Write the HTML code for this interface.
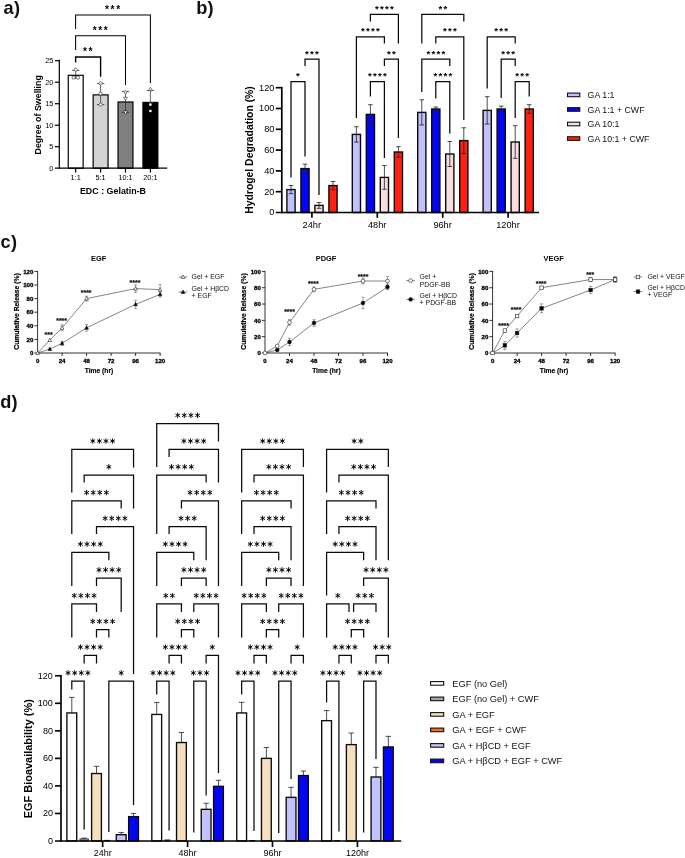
<!DOCTYPE html>
<html><head><meta charset="utf-8"><title>Figure</title>
<style>html,body{margin:0;padding:0;background:#fff;}svg{display:block;will-change:transform;font-family:'Liberation Sans', sans-serif;}</style>
</head><body>
<svg width="685" height="858" viewBox="0 0 685 858" font-family='"Liberation Sans", sans-serif'>
<rect x="0" y="0" width="685" height="858" fill="#fff"/>
<text x="3.6" y="13.6" font-size="18.2" font-weight="bold" letter-spacing="0.3" fill="#111">a)</text>
<text x="196.2" y="13.6" font-size="18.2" font-weight="bold" letter-spacing="0.3" fill="#111">b)</text>
<text x="0.6" y="247.6" font-size="18.2" font-weight="bold" letter-spacing="0.3" fill="#111">c)</text>
<text x="0.2" y="407.6" font-size="18.2" font-weight="bold" letter-spacing="0.3" fill="#111">d)</text>
<g id="panelA">
<rect x="68.25" y="75.32" width="14.9" height="92.88" fill="#ffffff" stroke="#000" stroke-width="1.2"/>
<rect x="93.15" y="94.88" width="14.9" height="73.31" fill="#d3d3d3" stroke="#000" stroke-width="1.2"/>
<rect x="118.05" y="101.98" width="14.9" height="66.22" fill="#808080" stroke="#000" stroke-width="1.2"/>
<rect x="142.95" y="102.41" width="14.9" height="65.79" fill="#000000" stroke="#000" stroke-width="1.2"/>
<line x1="75.7" y1="70.4" x2="75.7" y2="78.2" stroke="#222" stroke-width="0.7" stroke-linecap="butt"/>
<line x1="71.95" y1="70.4" x2="79.45" y2="70.4" stroke="#222" stroke-width="0.7" stroke-linecap="butt"/>
<line x1="71.95" y1="78.2" x2="79.45" y2="78.2" stroke="#222" stroke-width="0.7" stroke-linecap="butt"/>
<line x1="100.6" y1="83.6" x2="100.6" y2="104.6" stroke="#222" stroke-width="0.7" stroke-linecap="butt"/>
<line x1="96.85" y1="83.6" x2="104.35" y2="83.6" stroke="#222" stroke-width="0.7" stroke-linecap="butt"/>
<line x1="96.85" y1="104.6" x2="104.35" y2="104.6" stroke="#222" stroke-width="0.7" stroke-linecap="butt"/>
<line x1="125.5" y1="91.6" x2="125.5" y2="112.4" stroke="#222" stroke-width="0.7" stroke-linecap="butt"/>
<line x1="121.75" y1="91.6" x2="129.25" y2="91.6" stroke="#222" stroke-width="0.7" stroke-linecap="butt"/>
<line x1="121.75" y1="112.4" x2="129.25" y2="112.4" stroke="#222" stroke-width="0.7" stroke-linecap="butt"/>
<line x1="150.4" y1="90.4" x2="150.4" y2="102.5" stroke="#222" stroke-width="0.7" stroke-linecap="butt"/>
<line x1="146.65" y1="90.4" x2="154.15" y2="90.4" stroke="#222" stroke-width="0.7" stroke-linecap="butt"/>
<line x1="146.65" y1="102.5" x2="154.15" y2="102.5" stroke="#222" stroke-width="0.7" stroke-linecap="butt"/>
<circle cx="75.7" cy="69.8" r="1.6" fill="#fff" stroke="#222" stroke-width="0.6"/>
<circle cx="73.6" cy="77.6" r="1.6" fill="#fff" stroke="#222" stroke-width="0.6"/>
<circle cx="77.9" cy="77.6" r="1.6" fill="#fff" stroke="#222" stroke-width="0.6"/>
<circle cx="100.6" cy="83.4" r="1.6" fill="#fff" stroke="#222" stroke-width="0.6"/>
<circle cx="100.6" cy="93.6" r="1.6" fill="#fff" stroke="#222" stroke-width="0.6"/>
<circle cx="100.6" cy="104.6" r="1.6" fill="#fff" stroke="#222" stroke-width="0.6"/>
<path d="M125.5 94.5L127.4 91.08L123.6 91.08Z" fill="#fff" stroke="#222" stroke-width="0.6"/>
<path d="M125.5 100.7L127.4 97.28L123.6 97.28Z" fill="#fff" stroke="#222" stroke-width="0.6"/>
<path d="M125.5 114.3L127.4 110.88L123.6 110.88Z" fill="#fff" stroke="#222" stroke-width="0.6"/>
<path d="M150.4 87.3L152.3 90.72L148.5 90.72Z" fill="#fff" stroke="#222" stroke-width="0.6"/>
<circle cx="150.4" cy="104.6" r="1.3" fill="#fff" stroke="#fff" stroke-width="0.1"/>
<circle cx="150.4" cy="111" r="1.3" fill="#fff" stroke="#fff" stroke-width="0.1"/>
<line x1="59.3" y1="59.8" x2="59.3" y2="168.8" stroke="#000" stroke-width="1.2" stroke-linecap="butt"/>
<line x1="54.9" y1="168.2" x2="167.2" y2="168.2" stroke="#000" stroke-width="1.2" stroke-linecap="butt"/>
<line x1="54.9" y1="146.7" x2="59.3" y2="146.7" stroke="#000" stroke-width="1.2" stroke-linecap="butt"/>
<line x1="54.9" y1="125.2" x2="59.3" y2="125.2" stroke="#000" stroke-width="1.2" stroke-linecap="butt"/>
<line x1="54.9" y1="103.7" x2="59.3" y2="103.7" stroke="#000" stroke-width="1.2" stroke-linecap="butt"/>
<line x1="54.9" y1="82.2" x2="59.3" y2="82.2" stroke="#000" stroke-width="1.2" stroke-linecap="butt"/>
<line x1="54.9" y1="60.7" x2="59.3" y2="60.7" stroke="#000" stroke-width="1.2" stroke-linecap="butt"/>
<text x="53.4" y="170.81" font-size="7.3" text-anchor="end" fill="#000">0</text>
<text x="53.4" y="149.31" font-size="7.3" text-anchor="end" fill="#000">5</text>
<text x="53.4" y="127.81" font-size="7.3" text-anchor="end" fill="#000">10</text>
<text x="53.4" y="106.31" font-size="7.3" text-anchor="end" fill="#000">15</text>
<text x="53.4" y="84.81" font-size="7.3" text-anchor="end" fill="#000">20</text>
<text x="53.4" y="63.31" font-size="7.3" text-anchor="end" fill="#000">25</text>
<line x1="75.7" y1="168.2" x2="75.7" y2="172.6" stroke="#000" stroke-width="1.2" stroke-linecap="butt"/>
<text x="75.7" y="180.31" font-size="7.3" text-anchor="middle" fill="#000">1:1</text>
<line x1="100.6" y1="168.2" x2="100.6" y2="172.6" stroke="#000" stroke-width="1.2" stroke-linecap="butt"/>
<text x="100.6" y="180.31" font-size="7.3" text-anchor="middle" fill="#000">5:1</text>
<line x1="125.5" y1="168.2" x2="125.5" y2="172.6" stroke="#000" stroke-width="1.2" stroke-linecap="butt"/>
<text x="125.5" y="180.31" font-size="7.3" text-anchor="middle" fill="#000">10:1</text>
<line x1="150.4" y1="168.2" x2="150.4" y2="172.6" stroke="#000" stroke-width="1.2" stroke-linecap="butt"/>
<text x="150.4" y="180.31" font-size="7.3" text-anchor="middle" fill="#000">20:1</text>
<text x="113" y="194.49" font-size="8.9" text-anchor="middle" font-weight="bold" fill="#000">EDC : Gelatin-B</text>
<text transform="translate(37.6 114.8) rotate(-90)" x="0" y="3.19" font-size="8.9" text-anchor="middle" font-weight="bold" fill="#000">Degree of Swelling</text>
<path d="M75.6 29V14.9H150.4V82.9" stroke="#000" stroke-width="1.05" fill="none" stroke-linejoin="miter"/>
<text x="113.4" y="12.79" font-size="10.2" text-anchor="middle" font-weight="bold" letter-spacing="1.6" fill="#000">***</text>
<path d="M75.6 50V35.8H125.5V84.9" stroke="#000" stroke-width="1.05" fill="none" stroke-linejoin="miter"/>
<text x="101.1" y="33.59" font-size="10.2" text-anchor="middle" font-weight="bold" letter-spacing="1.6" fill="#000">***</text>
<path d="M75.6 62.4V57H100.6V76.8" stroke="#000" stroke-width="1.4" fill="none" stroke-linejoin="miter"/>
<text x="88.5" y="54.59" font-size="10.2" text-anchor="middle" font-weight="bold" letter-spacing="1.6" fill="#000">**</text>
</g>
<g id="panelB">
<rect x="286.9" y="189.6" width="8.2" height="22.9" fill="#c1c1fb" stroke="#0a0a0a" stroke-width="1.4"/>
<line x1="291" y1="185.5" x2="291" y2="193.7" stroke="#222" stroke-width="0.8" stroke-linecap="butt"/>
<line x1="288.7" y1="185.5" x2="293.3" y2="185.5" stroke="#222" stroke-width="0.8" stroke-linecap="butt"/>
<line x1="288.7" y1="193.7" x2="293.3" y2="193.7" stroke="#222" stroke-width="0.8" stroke-linecap="butt"/>
<rect x="300.9" y="168.6" width="8.2" height="43.9" fill="#0505f5" stroke="#0a0a0a" stroke-width="1.4"/>
<line x1="305" y1="164.2" x2="305" y2="173" stroke="#222" stroke-width="0.8" stroke-linecap="butt"/>
<line x1="302.7" y1="164.2" x2="307.3" y2="164.2" stroke="#222" stroke-width="0.8" stroke-linecap="butt"/>
<line x1="302.7" y1="173" x2="307.3" y2="173" stroke="#222" stroke-width="0.8" stroke-linecap="butt"/>
<rect x="314.9" y="205.4" width="8.2" height="7.1" fill="#f8dede" stroke="#0a0a0a" stroke-width="1.4"/>
<line x1="319" y1="202.5" x2="319" y2="208.3" stroke="#222" stroke-width="0.8" stroke-linecap="butt"/>
<line x1="316.7" y1="202.5" x2="321.3" y2="202.5" stroke="#222" stroke-width="0.8" stroke-linecap="butt"/>
<line x1="316.7" y1="208.3" x2="321.3" y2="208.3" stroke="#222" stroke-width="0.8" stroke-linecap="butt"/>
<rect x="328.9" y="185.6" width="8.2" height="26.9" fill="#ff200f" stroke="#0a0a0a" stroke-width="1.4"/>
<line x1="333" y1="181.5" x2="333" y2="189.7" stroke="#222" stroke-width="0.8" stroke-linecap="butt"/>
<line x1="330.7" y1="181.5" x2="335.3" y2="181.5" stroke="#222" stroke-width="0.8" stroke-linecap="butt"/>
<line x1="330.7" y1="189.7" x2="335.3" y2="189.7" stroke="#222" stroke-width="0.8" stroke-linecap="butt"/>
<rect x="352.3" y="134.4" width="8.2" height="78.1" fill="#c1c1fb" stroke="#0a0a0a" stroke-width="1.4"/>
<line x1="356.4" y1="126.7" x2="356.4" y2="142.1" stroke="#222" stroke-width="0.8" stroke-linecap="butt"/>
<line x1="354.1" y1="126.7" x2="358.7" y2="126.7" stroke="#222" stroke-width="0.8" stroke-linecap="butt"/>
<line x1="354.1" y1="142.1" x2="358.7" y2="142.1" stroke="#222" stroke-width="0.8" stroke-linecap="butt"/>
<rect x="366.3" y="114.4" width="8.2" height="98.1" fill="#0505f5" stroke="#0a0a0a" stroke-width="1.4"/>
<line x1="370.4" y1="104.7" x2="370.4" y2="124.1" stroke="#222" stroke-width="0.8" stroke-linecap="butt"/>
<line x1="368.1" y1="104.7" x2="372.7" y2="104.7" stroke="#222" stroke-width="0.8" stroke-linecap="butt"/>
<line x1="368.1" y1="124.1" x2="372.7" y2="124.1" stroke="#222" stroke-width="0.8" stroke-linecap="butt"/>
<rect x="380.3" y="177.4" width="8.2" height="35.1" fill="#f8dede" stroke="#0a0a0a" stroke-width="1.4"/>
<line x1="384.4" y1="165.5" x2="384.4" y2="189.3" stroke="#222" stroke-width="0.8" stroke-linecap="butt"/>
<line x1="382.1" y1="165.5" x2="386.7" y2="165.5" stroke="#222" stroke-width="0.8" stroke-linecap="butt"/>
<line x1="382.1" y1="189.3" x2="386.7" y2="189.3" stroke="#222" stroke-width="0.8" stroke-linecap="butt"/>
<rect x="394.3" y="152" width="8.2" height="60.5" fill="#ff200f" stroke="#0a0a0a" stroke-width="1.4"/>
<line x1="398.4" y1="146.7" x2="398.4" y2="157.3" stroke="#222" stroke-width="0.8" stroke-linecap="butt"/>
<line x1="396.1" y1="146.7" x2="400.7" y2="146.7" stroke="#222" stroke-width="0.8" stroke-linecap="butt"/>
<line x1="396.1" y1="157.3" x2="400.7" y2="157.3" stroke="#222" stroke-width="0.8" stroke-linecap="butt"/>
<rect x="417.7" y="112.4" width="8.2" height="100.1" fill="#c1c1fb" stroke="#0a0a0a" stroke-width="1.4"/>
<line x1="421.8" y1="99.8" x2="421.8" y2="125" stroke="#222" stroke-width="0.8" stroke-linecap="butt"/>
<line x1="419.5" y1="99.8" x2="424.1" y2="99.8" stroke="#222" stroke-width="0.8" stroke-linecap="butt"/>
<line x1="419.5" y1="125" x2="424.1" y2="125" stroke="#222" stroke-width="0.8" stroke-linecap="butt"/>
<rect x="431.7" y="109" width="8.2" height="103.5" fill="#0505f5" stroke="#0a0a0a" stroke-width="1.4"/>
<line x1="435.8" y1="107" x2="435.8" y2="111" stroke="#222" stroke-width="0.8" stroke-linecap="butt"/>
<line x1="433.5" y1="107" x2="438.1" y2="107" stroke="#222" stroke-width="0.8" stroke-linecap="butt"/>
<line x1="433.5" y1="111" x2="438.1" y2="111" stroke="#222" stroke-width="0.8" stroke-linecap="butt"/>
<rect x="445.7" y="154" width="8.2" height="58.5" fill="#f8dede" stroke="#0a0a0a" stroke-width="1.4"/>
<line x1="449.8" y1="141.5" x2="449.8" y2="166.5" stroke="#222" stroke-width="0.8" stroke-linecap="butt"/>
<line x1="447.5" y1="141.5" x2="452.1" y2="141.5" stroke="#222" stroke-width="0.8" stroke-linecap="butt"/>
<line x1="447.5" y1="166.5" x2="452.1" y2="166.5" stroke="#222" stroke-width="0.8" stroke-linecap="butt"/>
<rect x="459.7" y="140.6" width="8.2" height="71.9" fill="#ff200f" stroke="#0a0a0a" stroke-width="1.4"/>
<line x1="463.8" y1="127.8" x2="463.8" y2="153.4" stroke="#222" stroke-width="0.8" stroke-linecap="butt"/>
<line x1="461.5" y1="127.8" x2="466.1" y2="127.8" stroke="#222" stroke-width="0.8" stroke-linecap="butt"/>
<line x1="461.5" y1="153.4" x2="466.1" y2="153.4" stroke="#222" stroke-width="0.8" stroke-linecap="butt"/>
<rect x="483.1" y="110.4" width="8.2" height="102.1" fill="#c1c1fb" stroke="#0a0a0a" stroke-width="1.4"/>
<line x1="487.2" y1="96.7" x2="487.2" y2="124.1" stroke="#222" stroke-width="0.8" stroke-linecap="butt"/>
<line x1="484.9" y1="96.7" x2="489.5" y2="96.7" stroke="#222" stroke-width="0.8" stroke-linecap="butt"/>
<line x1="484.9" y1="124.1" x2="489.5" y2="124.1" stroke="#222" stroke-width="0.8" stroke-linecap="butt"/>
<rect x="497.1" y="109" width="8.2" height="103.5" fill="#0505f5" stroke="#0a0a0a" stroke-width="1.4"/>
<line x1="501.2" y1="106.1" x2="501.2" y2="111.9" stroke="#222" stroke-width="0.8" stroke-linecap="butt"/>
<line x1="498.9" y1="106.1" x2="503.5" y2="106.1" stroke="#222" stroke-width="0.8" stroke-linecap="butt"/>
<line x1="498.9" y1="111.9" x2="503.5" y2="111.9" stroke="#222" stroke-width="0.8" stroke-linecap="butt"/>
<rect x="511.1" y="142" width="8.2" height="70.5" fill="#f8dede" stroke="#0a0a0a" stroke-width="1.4"/>
<line x1="515.2" y1="125.7" x2="515.2" y2="158.3" stroke="#222" stroke-width="0.8" stroke-linecap="butt"/>
<line x1="512.9" y1="125.7" x2="517.5" y2="125.7" stroke="#222" stroke-width="0.8" stroke-linecap="butt"/>
<line x1="512.9" y1="158.3" x2="517.5" y2="158.3" stroke="#222" stroke-width="0.8" stroke-linecap="butt"/>
<rect x="525.1" y="109" width="8.2" height="103.5" fill="#ff200f" stroke="#0a0a0a" stroke-width="1.4"/>
<line x1="529.2" y1="104.7" x2="529.2" y2="113.3" stroke="#222" stroke-width="0.8" stroke-linecap="butt"/>
<line x1="526.9" y1="104.7" x2="531.5" y2="104.7" stroke="#222" stroke-width="0.8" stroke-linecap="butt"/>
<line x1="526.9" y1="113.3" x2="531.5" y2="113.3" stroke="#222" stroke-width="0.8" stroke-linecap="butt"/>
<line x1="281.8" y1="86.9" x2="281.8" y2="213.35" stroke="#000" stroke-width="1.7" stroke-linecap="butt"/>
<line x1="275.8" y1="212.5" x2="539" y2="212.5" stroke="#000" stroke-width="1.7" stroke-linecap="butt"/>
<line x1="275.8" y1="191.7" x2="281.8" y2="191.7" stroke="#000" stroke-width="1.7" stroke-linecap="butt"/>
<line x1="275.8" y1="170.9" x2="281.8" y2="170.9" stroke="#000" stroke-width="1.7" stroke-linecap="butt"/>
<line x1="275.8" y1="150.1" x2="281.8" y2="150.1" stroke="#000" stroke-width="1.7" stroke-linecap="butt"/>
<line x1="275.8" y1="129.3" x2="281.8" y2="129.3" stroke="#000" stroke-width="1.7" stroke-linecap="butt"/>
<line x1="275.8" y1="108.5" x2="281.8" y2="108.5" stroke="#000" stroke-width="1.7" stroke-linecap="butt"/>
<line x1="275.8" y1="87.7" x2="281.8" y2="87.7" stroke="#000" stroke-width="1.7" stroke-linecap="butt"/>
<text x="274.4" y="215.49" font-size="9.2" text-anchor="end" fill="#000">0</text>
<text x="274.4" y="194.69" font-size="9.2" text-anchor="end" fill="#000">20</text>
<text x="274.4" y="173.89" font-size="9.2" text-anchor="end" fill="#000">40</text>
<text x="274.4" y="153.09" font-size="9.2" text-anchor="end" fill="#000">60</text>
<text x="274.4" y="132.29" font-size="9.2" text-anchor="end" fill="#000">80</text>
<text x="274.4" y="111.49" font-size="9.2" text-anchor="end" fill="#000">100</text>
<text x="274.4" y="90.69" font-size="9.2" text-anchor="end" fill="#000">120</text>
<line x1="311.9" y1="212.5" x2="311.9" y2="217.8" stroke="#000" stroke-width="1.7" stroke-linecap="butt"/>
<text x="311.8" y="227.59" font-size="9.2" text-anchor="middle" fill="#000">24hr</text>
<line x1="377.3" y1="212.5" x2="377.3" y2="217.8" stroke="#000" stroke-width="1.7" stroke-linecap="butt"/>
<text x="377.2" y="227.59" font-size="9.2" text-anchor="middle" fill="#000">48hr</text>
<line x1="442.7" y1="212.5" x2="442.7" y2="217.8" stroke="#000" stroke-width="1.7" stroke-linecap="butt"/>
<text x="442.6" y="227.59" font-size="9.2" text-anchor="middle" fill="#000">96hr</text>
<line x1="508.1" y1="212.5" x2="508.1" y2="217.8" stroke="#000" stroke-width="1.7" stroke-linecap="butt"/>
<text x="508" y="227.59" font-size="9.2" text-anchor="middle" fill="#000">120hr</text>
<text transform="translate(249.7 150) rotate(-90)" x="0" y="3.72" font-size="10.4" text-anchor="middle" font-weight="bold" fill="#000">Hydrogel Degradation (%)</text>
<path d="M291 177.4V81.5H305V156.6" stroke="#0a0a0a" stroke-width="1.25" fill="none" stroke-linejoin="miter"/>
<text x="298.62" y="79.06" font-size="9.7" text-anchor="middle" font-weight="bold" letter-spacing="1.25" fill="#000">*</text>
<path d="M305 66V59.2H319V195" stroke="#0a0a0a" stroke-width="1.25" fill="none" stroke-linejoin="miter"/>
<text x="312.62" y="56.76" font-size="9.7" text-anchor="middle" font-weight="bold" letter-spacing="1.25" fill="#000">***</text>
<path d="M370.4 21.4V14.4H398.4V43.6" stroke="#0a0a0a" stroke-width="1.25" fill="none" stroke-linejoin="miter"/>
<text x="385.02" y="11.96" font-size="9.7" text-anchor="middle" font-weight="bold" letter-spacing="1.25" fill="#000">****</text>
<path d="M356.4 118V36.8H384.4V43.6" stroke="#0a0a0a" stroke-width="1.25" fill="none" stroke-linejoin="miter"/>
<text x="371.02" y="34.36" font-size="9.7" text-anchor="middle" font-weight="bold" letter-spacing="1.25" fill="#000">****</text>
<path d="M384.4 66V59.2H398.4V138" stroke="#0a0a0a" stroke-width="1.25" fill="none" stroke-linejoin="miter"/>
<text x="392.02" y="56.76" font-size="9.7" text-anchor="middle" font-weight="bold" letter-spacing="1.25" fill="#000">**</text>
<path d="M370.4 96.6V81.5H384.4V158" stroke="#0a0a0a" stroke-width="1.25" fill="none" stroke-linejoin="miter"/>
<text x="378.02" y="79.06" font-size="9.7" text-anchor="middle" font-weight="bold" letter-spacing="1.25" fill="#000">****</text>
<path d="M421.8 43.6V14.4H463.8V21.4" stroke="#0a0a0a" stroke-width="1.25" fill="none" stroke-linejoin="miter"/>
<text x="443.43" y="11.96" font-size="9.7" text-anchor="middle" font-weight="bold" letter-spacing="1.25" fill="#000">**</text>
<path d="M435.8 43.6V36.8H463.8V120" stroke="#0a0a0a" stroke-width="1.25" fill="none" stroke-linejoin="miter"/>
<text x="450.43" y="34.36" font-size="9.7" text-anchor="middle" font-weight="bold" letter-spacing="1.25" fill="#000">***</text>
<path d="M421.8 92V59.2H449.8V66" stroke="#0a0a0a" stroke-width="1.25" fill="none" stroke-linejoin="miter"/>
<text x="436.43" y="56.76" font-size="9.7" text-anchor="middle" font-weight="bold" letter-spacing="1.25" fill="#000">****</text>
<path d="M435.8 98.6V81.5H449.8V133.6" stroke="#0a0a0a" stroke-width="1.25" fill="none" stroke-linejoin="miter"/>
<text x="443.43" y="79.06" font-size="9.7" text-anchor="middle" font-weight="bold" letter-spacing="1.25" fill="#000">****</text>
<path d="M487.2 88.6V36.8H515.2V43.6" stroke="#0a0a0a" stroke-width="1.25" fill="none" stroke-linejoin="miter"/>
<text x="501.83" y="34.36" font-size="9.7" text-anchor="middle" font-weight="bold" letter-spacing="1.25" fill="#000">***</text>
<path d="M501.2 98V59.2H515.2V66" stroke="#0a0a0a" stroke-width="1.25" fill="none" stroke-linejoin="miter"/>
<text x="508.83" y="56.76" font-size="9.7" text-anchor="middle" font-weight="bold" letter-spacing="1.25" fill="#000">***</text>
<path d="M515.2 118V81.5H529.2V96.6" stroke="#0a0a0a" stroke-width="1.25" fill="none" stroke-linejoin="miter"/>
<text x="522.83" y="79.06" font-size="9.7" text-anchor="middle" font-weight="bold" letter-spacing="1.25" fill="#000">***</text>
<rect x="567.5" y="93.1" width="12.3" height="3.6" fill="#c1c1fb" stroke="#111" stroke-width="1.1"/>
<text x="587.6" y="98.15" font-size="8.8" text-anchor="start" fill="#111">GA 1:1</text>
<rect x="567.5" y="107.65" width="12.3" height="3.6" fill="#0505f5" stroke="#111" stroke-width="1.1"/>
<text x="587.6" y="112.7" font-size="8.8" text-anchor="start" fill="#111">GA 1:1 + CWF</text>
<rect x="567.5" y="122.2" width="12.3" height="3.6" fill="#f8dede" stroke="#111" stroke-width="1.1"/>
<text x="587.6" y="127.25" font-size="8.8" text-anchor="start" fill="#111">GA 10:1</text>
<rect x="567.5" y="136.75" width="12.3" height="3.6" fill="#ff200f" stroke="#111" stroke-width="1.1"/>
<text x="587.6" y="141.8" font-size="8.8" text-anchor="start" fill="#111">GA 10:1 + CWF</text>
</g>
<g id="panelC">
<text x="98.6" y="261.05" font-size="7.4" text-anchor="middle" font-weight="bold" fill="#000">EGF</text>
<text x="99" y="372.9" font-size="6.7" text-anchor="middle" font-weight="bold" stroke="#000" stroke-width="0.15" fill="#000">Time (hr)</text>
<text transform="translate(16.4 311.5) rotate(-90)" x="0" y="2.42" font-size="6.77" text-anchor="middle" font-weight="bold" stroke="#000" stroke-width="0.2" fill="#000">Cumulative Release (%)</text>
<path d="M37.6 353L49.85 340.08L62.1 327.84L86.6 298.6L135.6 288.6L160.1 289.62" stroke="#505050" stroke-width="0.7" fill="none" stroke-linejoin="miter"/>
<path d="M37.6 353L49.85 348.99L62.1 343.34L86.6 327.84L135.6 304.38L160.1 294.38" stroke="#505050" stroke-width="0.7" fill="none" stroke-linejoin="miter"/>
<line x1="62.1" y1="324.78" x2="62.1" y2="330.9" stroke="#666" stroke-width="0.6" stroke-linecap="butt"/>
<line x1="60.5" y1="324.78" x2="63.7" y2="324.78" stroke="#666" stroke-width="0.6" stroke-linecap="butt"/>
<line x1="60.5" y1="330.9" x2="63.7" y2="330.9" stroke="#666" stroke-width="0.6" stroke-linecap="butt"/>
<line x1="86.6" y1="296.22" x2="86.6" y2="300.98" stroke="#666" stroke-width="0.6" stroke-linecap="butt"/>
<line x1="85" y1="296.22" x2="88.2" y2="296.22" stroke="#666" stroke-width="0.6" stroke-linecap="butt"/>
<line x1="85" y1="300.98" x2="88.2" y2="300.98" stroke="#666" stroke-width="0.6" stroke-linecap="butt"/>
<line x1="135.6" y1="284.86" x2="135.6" y2="292.34" stroke="#666" stroke-width="0.6" stroke-linecap="butt"/>
<line x1="134" y1="284.86" x2="137.2" y2="284.86" stroke="#666" stroke-width="0.6" stroke-linecap="butt"/>
<line x1="134" y1="292.34" x2="137.2" y2="292.34" stroke="#666" stroke-width="0.6" stroke-linecap="butt"/>
<line x1="160.1" y1="284.52" x2="160.1" y2="294.72" stroke="#666" stroke-width="0.6" stroke-linecap="butt"/>
<line x1="158.5" y1="284.52" x2="161.7" y2="284.52" stroke="#666" stroke-width="0.6" stroke-linecap="butt"/>
<line x1="158.5" y1="294.72" x2="161.7" y2="294.72" stroke="#666" stroke-width="0.6" stroke-linecap="butt"/>
<line x1="62.1" y1="341.3" x2="62.1" y2="345.38" stroke="#666" stroke-width="0.6" stroke-linecap="butt"/>
<line x1="60.5" y1="341.3" x2="63.7" y2="341.3" stroke="#666" stroke-width="0.6" stroke-linecap="butt"/>
<line x1="60.5" y1="345.38" x2="63.7" y2="345.38" stroke="#666" stroke-width="0.6" stroke-linecap="butt"/>
<line x1="86.6" y1="324.44" x2="86.6" y2="331.24" stroke="#666" stroke-width="0.6" stroke-linecap="butt"/>
<line x1="85" y1="324.44" x2="88.2" y2="324.44" stroke="#666" stroke-width="0.6" stroke-linecap="butt"/>
<line x1="85" y1="331.24" x2="88.2" y2="331.24" stroke="#666" stroke-width="0.6" stroke-linecap="butt"/>
<line x1="135.6" y1="300.3" x2="135.6" y2="308.46" stroke="#666" stroke-width="0.6" stroke-linecap="butt"/>
<line x1="134" y1="300.3" x2="137.2" y2="300.3" stroke="#666" stroke-width="0.6" stroke-linecap="butt"/>
<line x1="134" y1="308.46" x2="137.2" y2="308.46" stroke="#666" stroke-width="0.6" stroke-linecap="butt"/>
<line x1="160.1" y1="291.66" x2="160.1" y2="297.1" stroke="#666" stroke-width="0.6" stroke-linecap="butt"/>
<line x1="158.5" y1="291.66" x2="161.7" y2="291.66" stroke="#666" stroke-width="0.6" stroke-linecap="butt"/>
<line x1="158.5" y1="297.1" x2="161.7" y2="297.1" stroke="#666" stroke-width="0.6" stroke-linecap="butt"/>
<line x1="37.6" y1="270.9" x2="37.6" y2="353.4" stroke="#111" stroke-width="0.85" stroke-linecap="butt"/>
<line x1="34.4" y1="353" x2="160.5" y2="353" stroke="#111" stroke-width="0.85" stroke-linecap="butt"/>
<line x1="34.4" y1="339.4" x2="37.6" y2="339.4" stroke="#111" stroke-width="0.85" stroke-linecap="butt"/>
<line x1="34.4" y1="325.8" x2="37.6" y2="325.8" stroke="#111" stroke-width="0.85" stroke-linecap="butt"/>
<line x1="34.4" y1="312.2" x2="37.6" y2="312.2" stroke="#111" stroke-width="0.85" stroke-linecap="butt"/>
<line x1="34.4" y1="298.6" x2="37.6" y2="298.6" stroke="#111" stroke-width="0.85" stroke-linecap="butt"/>
<line x1="34.4" y1="285" x2="37.6" y2="285" stroke="#111" stroke-width="0.85" stroke-linecap="butt"/>
<line x1="34.4" y1="271.4" x2="37.6" y2="271.4" stroke="#111" stroke-width="0.85" stroke-linecap="butt"/>
<text x="33.4" y="355.18" font-size="6.1" text-anchor="end" font-weight="bold" stroke="#000" stroke-width="0.3" fill="#000">0</text>
<text x="33.4" y="341.58" font-size="6.1" text-anchor="end" font-weight="bold" stroke="#000" stroke-width="0.3" fill="#000">20</text>
<text x="33.4" y="327.98" font-size="6.1" text-anchor="end" font-weight="bold" stroke="#000" stroke-width="0.3" fill="#000">40</text>
<text x="33.4" y="314.38" font-size="6.1" text-anchor="end" font-weight="bold" stroke="#000" stroke-width="0.3" fill="#000">60</text>
<text x="33.4" y="300.78" font-size="6.1" text-anchor="end" font-weight="bold" stroke="#000" stroke-width="0.3" fill="#000">80</text>
<text x="33.4" y="287.18" font-size="6.1" text-anchor="end" font-weight="bold" stroke="#000" stroke-width="0.3" fill="#000">100</text>
<text x="33.4" y="273.58" font-size="6.1" text-anchor="end" font-weight="bold" stroke="#000" stroke-width="0.3" fill="#000">120</text>
<text x="37.6" y="363.18" font-size="6.1" text-anchor="middle" font-weight="bold" stroke="#000" stroke-width="0.3" fill="#000">0</text>
<line x1="62.1" y1="353" x2="62.1" y2="356" stroke="#111" stroke-width="0.85" stroke-linecap="butt"/>
<text x="62.1" y="363.18" font-size="6.1" text-anchor="middle" font-weight="bold" stroke="#000" stroke-width="0.3" fill="#000">24</text>
<line x1="86.6" y1="353" x2="86.6" y2="356" stroke="#111" stroke-width="0.85" stroke-linecap="butt"/>
<text x="86.6" y="363.18" font-size="6.1" text-anchor="middle" font-weight="bold" stroke="#000" stroke-width="0.3" fill="#000">48</text>
<line x1="111.1" y1="353" x2="111.1" y2="356" stroke="#111" stroke-width="0.85" stroke-linecap="butt"/>
<text x="111.1" y="363.18" font-size="6.1" text-anchor="middle" font-weight="bold" stroke="#000" stroke-width="0.3" fill="#000">72</text>
<line x1="135.6" y1="353" x2="135.6" y2="356" stroke="#111" stroke-width="0.85" stroke-linecap="butt"/>
<text x="135.6" y="363.18" font-size="6.1" text-anchor="middle" font-weight="bold" stroke="#000" stroke-width="0.3" fill="#000">96</text>
<line x1="160.1" y1="353" x2="160.1" y2="356" stroke="#111" stroke-width="0.85" stroke-linecap="butt"/>
<text x="160.1" y="363.18" font-size="6.1" text-anchor="middle" font-weight="bold" stroke="#000" stroke-width="0.3" fill="#000">120</text>
<path d="M49.85 346.95L51.7 350.47L48 350.47Z" fill="#000" stroke="#222" stroke-width="0.6"/>
<path d="M62.1 341.31L63.95 344.82L60.25 344.82Z" fill="#000" stroke="#222" stroke-width="0.6"/>
<path d="M86.6 325.8L88.45 329.32L84.75 329.32Z" fill="#000" stroke="#222" stroke-width="0.6"/>
<path d="M135.6 302.34L137.45 305.86L133.75 305.86Z" fill="#000" stroke="#222" stroke-width="0.6"/>
<path d="M160.1 292.35L161.95 295.86L158.25 295.86Z" fill="#000" stroke="#222" stroke-width="0.6"/>
<path d="M37.6 350.96L39.45 354.48L35.75 354.48Z" fill="#fff" stroke="#222" stroke-width="0.6"/>
<path d="M49.85 338.04L51.7 341.56L48 341.56Z" fill="#fff" stroke="#222" stroke-width="0.6"/>
<path d="M62.1 325.8L63.95 329.32L60.25 329.32Z" fill="#fff" stroke="#222" stroke-width="0.6"/>
<path d="M86.6 296.56L88.45 300.08L84.75 300.08Z" fill="#fff" stroke="#222" stroke-width="0.6"/>
<path d="M135.6 286.57L137.45 290.08L133.75 290.08Z" fill="#fff" stroke="#222" stroke-width="0.6"/>
<path d="M160.1 287.59L161.95 291.1L158.25 291.1Z" fill="#fff" stroke="#222" stroke-width="0.6"/>
<text x="48.62" y="337.43" font-size="6.9" text-anchor="middle" font-weight="bold" stroke="#111" stroke-width="0.2" fill="#111">***</text>
<text x="61.59" y="322.81" font-size="6.9" text-anchor="middle" font-weight="bold" stroke="#111" stroke-width="0.2" fill="#111">****</text>
<text x="86.19" y="295.07" font-size="6.9" text-anchor="middle" font-weight="bold" stroke="#111" stroke-width="0.2" fill="#111">****</text>
<text x="134.99" y="284.87" font-size="6.9" text-anchor="middle" font-weight="bold" stroke="#111" stroke-width="0.2" fill="#111">****</text>
<line x1="178.8" y1="277" x2="187.2" y2="277" stroke="#444" stroke-width="0.7" stroke-linecap="butt"/>
<path d="M183 274.96L184.85 278.48L181.15 278.48Z" fill="#fff" stroke="#222" stroke-width="0.6"/>
<line x1="178.8" y1="292" x2="187.2" y2="292" stroke="#444" stroke-width="0.7" stroke-linecap="butt"/>
<path d="M183 289.96L184.85 293.48L181.15 293.48Z" fill="#000" stroke="#222" stroke-width="0.6"/>
<text x="191.6" y="279.47" font-size="6.9" text-anchor="start" fill="#111">Gel + EGF</text>
<text x="191.6" y="290.57" font-size="6.9" text-anchor="start" fill="#111">Gel + HβCD</text>
<text x="191.6" y="297.57" font-size="6.9" text-anchor="start" fill="#111">+ EGF</text>
<text x="326" y="261.05" font-size="7.4" text-anchor="middle" font-weight="bold" fill="#000">PDGF</text>
<text x="326.4" y="372.9" font-size="6.7" text-anchor="middle" font-weight="bold" stroke="#000" stroke-width="0.15" fill="#000">Time (hr)</text>
<text transform="translate(243.8 311.5) rotate(-90)" x="0" y="2.42" font-size="6.77" text-anchor="middle" font-weight="bold" stroke="#000" stroke-width="0.2" fill="#000">Cumulative Release (%)</text>
<path d="M265 353L277.25 345.98L289.5 322.4L314 289.35L363 281.03L387.5 281.03" stroke="#505050" stroke-width="0.7" fill="none" stroke-linejoin="miter"/>
<path d="M265 353L277.25 349.98L289.5 341.98L314 322.97L363 302.98L387.5 286.99" stroke="#505050" stroke-width="0.7" fill="none" stroke-linejoin="miter"/>
<line x1="289.5" y1="319.54" x2="289.5" y2="325.26" stroke="#666" stroke-width="0.6" stroke-linecap="butt"/>
<line x1="287.9" y1="319.54" x2="291.1" y2="319.54" stroke="#666" stroke-width="0.6" stroke-linecap="butt"/>
<line x1="287.9" y1="325.26" x2="291.1" y2="325.26" stroke="#666" stroke-width="0.6" stroke-linecap="butt"/>
<line x1="314" y1="286.9" x2="314" y2="291.8" stroke="#666" stroke-width="0.6" stroke-linecap="butt"/>
<line x1="312.4" y1="286.9" x2="315.6" y2="286.9" stroke="#666" stroke-width="0.6" stroke-linecap="butt"/>
<line x1="312.4" y1="291.8" x2="315.6" y2="291.8" stroke="#666" stroke-width="0.6" stroke-linecap="butt"/>
<line x1="363" y1="278.17" x2="363" y2="283.88" stroke="#666" stroke-width="0.6" stroke-linecap="butt"/>
<line x1="361.4" y1="278.17" x2="364.6" y2="278.17" stroke="#666" stroke-width="0.6" stroke-linecap="butt"/>
<line x1="361.4" y1="283.88" x2="364.6" y2="283.88" stroke="#666" stroke-width="0.6" stroke-linecap="butt"/>
<line x1="387.5" y1="276.54" x2="387.5" y2="285.52" stroke="#666" stroke-width="0.6" stroke-linecap="butt"/>
<line x1="385.9" y1="276.54" x2="389.1" y2="276.54" stroke="#666" stroke-width="0.6" stroke-linecap="butt"/>
<line x1="385.9" y1="285.52" x2="389.1" y2="285.52" stroke="#666" stroke-width="0.6" stroke-linecap="butt"/>
<line x1="289.5" y1="338.31" x2="289.5" y2="345.66" stroke="#666" stroke-width="0.6" stroke-linecap="butt"/>
<line x1="287.9" y1="338.31" x2="291.1" y2="338.31" stroke="#666" stroke-width="0.6" stroke-linecap="butt"/>
<line x1="287.9" y1="345.66" x2="291.1" y2="345.66" stroke="#666" stroke-width="0.6" stroke-linecap="butt"/>
<line x1="314" y1="319.71" x2="314" y2="326.24" stroke="#666" stroke-width="0.6" stroke-linecap="butt"/>
<line x1="312.4" y1="319.71" x2="315.6" y2="319.71" stroke="#666" stroke-width="0.6" stroke-linecap="butt"/>
<line x1="312.4" y1="326.24" x2="315.6" y2="326.24" stroke="#666" stroke-width="0.6" stroke-linecap="butt"/>
<line x1="363" y1="297.27" x2="363" y2="308.69" stroke="#666" stroke-width="0.6" stroke-linecap="butt"/>
<line x1="361.4" y1="297.27" x2="364.6" y2="297.27" stroke="#666" stroke-width="0.6" stroke-linecap="butt"/>
<line x1="361.4" y1="308.69" x2="364.6" y2="308.69" stroke="#666" stroke-width="0.6" stroke-linecap="butt"/>
<line x1="387.5" y1="284.13" x2="387.5" y2="289.84" stroke="#666" stroke-width="0.6" stroke-linecap="butt"/>
<line x1="385.9" y1="284.13" x2="389.1" y2="284.13" stroke="#666" stroke-width="0.6" stroke-linecap="butt"/>
<line x1="385.9" y1="289.84" x2="389.1" y2="289.84" stroke="#666" stroke-width="0.6" stroke-linecap="butt"/>
<line x1="265" y1="270.9" x2="265" y2="353.4" stroke="#111" stroke-width="0.85" stroke-linecap="butt"/>
<line x1="261.8" y1="353" x2="387.9" y2="353" stroke="#111" stroke-width="0.85" stroke-linecap="butt"/>
<line x1="261.8" y1="336.68" x2="265" y2="336.68" stroke="#111" stroke-width="0.85" stroke-linecap="butt"/>
<line x1="261.8" y1="320.36" x2="265" y2="320.36" stroke="#111" stroke-width="0.85" stroke-linecap="butt"/>
<line x1="261.8" y1="304.04" x2="265" y2="304.04" stroke="#111" stroke-width="0.85" stroke-linecap="butt"/>
<line x1="261.8" y1="287.72" x2="265" y2="287.72" stroke="#111" stroke-width="0.85" stroke-linecap="butt"/>
<line x1="261.8" y1="271.4" x2="265" y2="271.4" stroke="#111" stroke-width="0.85" stroke-linecap="butt"/>
<text x="260.8" y="355.18" font-size="6.1" text-anchor="end" font-weight="bold" stroke="#000" stroke-width="0.3" fill="#000">0</text>
<text x="260.8" y="338.86" font-size="6.1" text-anchor="end" font-weight="bold" stroke="#000" stroke-width="0.3" fill="#000">20</text>
<text x="260.8" y="322.54" font-size="6.1" text-anchor="end" font-weight="bold" stroke="#000" stroke-width="0.3" fill="#000">40</text>
<text x="260.8" y="306.22" font-size="6.1" text-anchor="end" font-weight="bold" stroke="#000" stroke-width="0.3" fill="#000">60</text>
<text x="260.8" y="289.9" font-size="6.1" text-anchor="end" font-weight="bold" stroke="#000" stroke-width="0.3" fill="#000">80</text>
<text x="260.8" y="273.58" font-size="6.1" text-anchor="end" font-weight="bold" stroke="#000" stroke-width="0.3" fill="#000">100</text>
<text x="265" y="363.18" font-size="6.1" text-anchor="middle" font-weight="bold" stroke="#000" stroke-width="0.3" fill="#000">0</text>
<line x1="289.5" y1="353" x2="289.5" y2="356" stroke="#111" stroke-width="0.85" stroke-linecap="butt"/>
<text x="289.5" y="363.18" font-size="6.1" text-anchor="middle" font-weight="bold" stroke="#000" stroke-width="0.3" fill="#000">24</text>
<line x1="314" y1="353" x2="314" y2="356" stroke="#111" stroke-width="0.85" stroke-linecap="butt"/>
<text x="314" y="363.18" font-size="6.1" text-anchor="middle" font-weight="bold" stroke="#000" stroke-width="0.3" fill="#000">48</text>
<line x1="338.5" y1="353" x2="338.5" y2="356" stroke="#111" stroke-width="0.85" stroke-linecap="butt"/>
<text x="338.5" y="363.18" font-size="6.1" text-anchor="middle" font-weight="bold" stroke="#000" stroke-width="0.3" fill="#000">72</text>
<line x1="363" y1="353" x2="363" y2="356" stroke="#111" stroke-width="0.85" stroke-linecap="butt"/>
<text x="363" y="363.18" font-size="6.1" text-anchor="middle" font-weight="bold" stroke="#000" stroke-width="0.3" fill="#000">96</text>
<line x1="387.5" y1="353" x2="387.5" y2="356" stroke="#111" stroke-width="0.85" stroke-linecap="butt"/>
<text x="387.5" y="363.18" font-size="6.1" text-anchor="middle" font-weight="bold" stroke="#000" stroke-width="0.3" fill="#000">120</text>
<circle cx="277.25" cy="349.98" r="1.9" fill="#000" stroke="#222" stroke-width="0.6"/>
<circle cx="289.5" cy="341.98" r="1.9" fill="#000" stroke="#222" stroke-width="0.6"/>
<circle cx="314" cy="322.97" r="1.9" fill="#000" stroke="#222" stroke-width="0.6"/>
<circle cx="363" cy="302.98" r="1.9" fill="#000" stroke="#222" stroke-width="0.6"/>
<circle cx="387.5" cy="286.99" r="1.9" fill="#000" stroke="#222" stroke-width="0.6"/>
<circle cx="265" cy="353" r="1.9" fill="#fff" stroke="#222" stroke-width="0.6"/>
<circle cx="277.25" cy="345.98" r="1.9" fill="#fff" stroke="#222" stroke-width="0.6"/>
<circle cx="289.5" cy="322.4" r="1.9" fill="#fff" stroke="#222" stroke-width="0.6"/>
<circle cx="314" cy="289.35" r="1.9" fill="#fff" stroke="#222" stroke-width="0.6"/>
<circle cx="363" cy="281.03" r="1.9" fill="#fff" stroke="#222" stroke-width="0.6"/>
<circle cx="387.5" cy="281.03" r="1.9" fill="#fff" stroke="#222" stroke-width="0.6"/>
<text x="289.5" y="314.45" font-size="6.9" text-anchor="middle" font-weight="bold" stroke="#111" stroke-width="0.2" fill="#111">****</text>
<text x="313.29" y="286.46" font-size="6.9" text-anchor="middle" font-weight="bold" stroke="#111" stroke-width="0.2" fill="#111">****</text>
<text x="363" y="278.87" font-size="6.9" text-anchor="middle" font-weight="bold" stroke="#111" stroke-width="0.2" fill="#111">****</text>
<line x1="406.4" y1="280.6" x2="414.8" y2="280.6" stroke="#444" stroke-width="0.7" stroke-linecap="butt"/>
<circle cx="410.6" cy="280.6" r="1.9" fill="#fff" stroke="#222" stroke-width="0.6"/>
<line x1="406.4" y1="299.4" x2="414.8" y2="299.4" stroke="#444" stroke-width="0.7" stroke-linecap="butt"/>
<circle cx="410.6" cy="299.4" r="1.9" fill="#000" stroke="#222" stroke-width="0.6"/>
<text x="419.6" y="279.47" font-size="6.9" text-anchor="start" fill="#111">Gel +</text>
<text x="419.6" y="286.87" font-size="6.9" text-anchor="start" fill="#111">PDGF-BB</text>
<text x="419.6" y="297.67" font-size="6.9" text-anchor="start" fill="#111">Gel + HβCD</text>
<text x="419.6" y="305.07" font-size="6.9" text-anchor="start" fill="#111">+ PDGF-BB</text>
<text x="553.6" y="261.05" font-size="7.4" text-anchor="middle" font-weight="bold" fill="#000">VEGF</text>
<text x="554" y="372.9" font-size="6.7" text-anchor="middle" font-weight="bold" stroke="#000" stroke-width="0.15" fill="#000">Time (hr)</text>
<text transform="translate(471.4 311.5) rotate(-90)" x="0" y="2.42" font-size="6.77" text-anchor="middle" font-weight="bold" stroke="#000" stroke-width="0.2" fill="#000">Cumulative Release (%)</text>
<path d="M492.6 353L504.85 330.56L517.1 316.04L541.6 287.72L590.6 279.56L615.1 279.56" stroke="#505050" stroke-width="0.7" fill="none" stroke-linejoin="miter"/>
<path d="M492.6 353L504.85 345.41L517.1 333.01L541.6 308.36L590.6 290L615.1 279.56" stroke="#505050" stroke-width="0.7" fill="none" stroke-linejoin="miter"/>
<line x1="590.6" y1="277.52" x2="590.6" y2="281.6" stroke="#666" stroke-width="0.6" stroke-linecap="butt"/>
<line x1="589" y1="277.52" x2="592.2" y2="277.52" stroke="#666" stroke-width="0.6" stroke-linecap="butt"/>
<line x1="589" y1="281.6" x2="592.2" y2="281.6" stroke="#666" stroke-width="0.6" stroke-linecap="butt"/>
<line x1="615.1" y1="276.7" x2="615.1" y2="282.42" stroke="#666" stroke-width="0.6" stroke-linecap="butt"/>
<line x1="613.5" y1="276.7" x2="616.7" y2="276.7" stroke="#666" stroke-width="0.6" stroke-linecap="butt"/>
<line x1="613.5" y1="282.42" x2="616.7" y2="282.42" stroke="#666" stroke-width="0.6" stroke-linecap="butt"/>
<line x1="504.85" y1="341.33" x2="504.85" y2="349.49" stroke="#666" stroke-width="0.6" stroke-linecap="butt"/>
<line x1="503.25" y1="341.33" x2="506.45" y2="341.33" stroke="#666" stroke-width="0.6" stroke-linecap="butt"/>
<line x1="503.25" y1="349.49" x2="506.45" y2="349.49" stroke="#666" stroke-width="0.6" stroke-linecap="butt"/>
<line x1="517.1" y1="328.93" x2="517.1" y2="337.09" stroke="#666" stroke-width="0.6" stroke-linecap="butt"/>
<line x1="515.5" y1="328.93" x2="518.7" y2="328.93" stroke="#666" stroke-width="0.6" stroke-linecap="butt"/>
<line x1="515.5" y1="337.09" x2="518.7" y2="337.09" stroke="#666" stroke-width="0.6" stroke-linecap="butt"/>
<line x1="541.6" y1="303.88" x2="541.6" y2="312.85" stroke="#666" stroke-width="0.6" stroke-linecap="butt"/>
<line x1="540" y1="303.88" x2="543.2" y2="303.88" stroke="#666" stroke-width="0.6" stroke-linecap="butt"/>
<line x1="540" y1="312.85" x2="543.2" y2="312.85" stroke="#666" stroke-width="0.6" stroke-linecap="butt"/>
<line x1="590.6" y1="286.33" x2="590.6" y2="293.68" stroke="#666" stroke-width="0.6" stroke-linecap="butt"/>
<line x1="589" y1="286.33" x2="592.2" y2="286.33" stroke="#666" stroke-width="0.6" stroke-linecap="butt"/>
<line x1="589" y1="293.68" x2="592.2" y2="293.68" stroke="#666" stroke-width="0.6" stroke-linecap="butt"/>
<line x1="615.1" y1="277.11" x2="615.1" y2="282.01" stroke="#666" stroke-width="0.6" stroke-linecap="butt"/>
<line x1="613.5" y1="277.11" x2="616.7" y2="277.11" stroke="#666" stroke-width="0.6" stroke-linecap="butt"/>
<line x1="613.5" y1="282.01" x2="616.7" y2="282.01" stroke="#666" stroke-width="0.6" stroke-linecap="butt"/>
<line x1="492.6" y1="270.9" x2="492.6" y2="353.4" stroke="#111" stroke-width="0.85" stroke-linecap="butt"/>
<line x1="489.4" y1="353" x2="615.5" y2="353" stroke="#111" stroke-width="0.85" stroke-linecap="butt"/>
<line x1="489.4" y1="336.68" x2="492.6" y2="336.68" stroke="#111" stroke-width="0.85" stroke-linecap="butt"/>
<line x1="489.4" y1="320.36" x2="492.6" y2="320.36" stroke="#111" stroke-width="0.85" stroke-linecap="butt"/>
<line x1="489.4" y1="304.04" x2="492.6" y2="304.04" stroke="#111" stroke-width="0.85" stroke-linecap="butt"/>
<line x1="489.4" y1="287.72" x2="492.6" y2="287.72" stroke="#111" stroke-width="0.85" stroke-linecap="butt"/>
<line x1="489.4" y1="271.4" x2="492.6" y2="271.4" stroke="#111" stroke-width="0.85" stroke-linecap="butt"/>
<text x="488.4" y="355.18" font-size="6.1" text-anchor="end" font-weight="bold" stroke="#000" stroke-width="0.3" fill="#000">0</text>
<text x="488.4" y="338.86" font-size="6.1" text-anchor="end" font-weight="bold" stroke="#000" stroke-width="0.3" fill="#000">20</text>
<text x="488.4" y="322.54" font-size="6.1" text-anchor="end" font-weight="bold" stroke="#000" stroke-width="0.3" fill="#000">40</text>
<text x="488.4" y="306.22" font-size="6.1" text-anchor="end" font-weight="bold" stroke="#000" stroke-width="0.3" fill="#000">60</text>
<text x="488.4" y="289.9" font-size="6.1" text-anchor="end" font-weight="bold" stroke="#000" stroke-width="0.3" fill="#000">80</text>
<text x="488.4" y="273.58" font-size="6.1" text-anchor="end" font-weight="bold" stroke="#000" stroke-width="0.3" fill="#000">100</text>
<text x="492.6" y="363.18" font-size="6.1" text-anchor="middle" font-weight="bold" stroke="#000" stroke-width="0.3" fill="#000">0</text>
<line x1="517.1" y1="353" x2="517.1" y2="356" stroke="#111" stroke-width="0.85" stroke-linecap="butt"/>
<text x="517.1" y="363.18" font-size="6.1" text-anchor="middle" font-weight="bold" stroke="#000" stroke-width="0.3" fill="#000">24</text>
<line x1="541.6" y1="353" x2="541.6" y2="356" stroke="#111" stroke-width="0.85" stroke-linecap="butt"/>
<text x="541.6" y="363.18" font-size="6.1" text-anchor="middle" font-weight="bold" stroke="#000" stroke-width="0.3" fill="#000">48</text>
<line x1="566.1" y1="353" x2="566.1" y2="356" stroke="#111" stroke-width="0.85" stroke-linecap="butt"/>
<text x="566.1" y="363.18" font-size="6.1" text-anchor="middle" font-weight="bold" stroke="#000" stroke-width="0.3" fill="#000">72</text>
<line x1="590.6" y1="353" x2="590.6" y2="356" stroke="#111" stroke-width="0.85" stroke-linecap="butt"/>
<text x="590.6" y="363.18" font-size="6.1" text-anchor="middle" font-weight="bold" stroke="#000" stroke-width="0.3" fill="#000">96</text>
<line x1="615.1" y1="353" x2="615.1" y2="356" stroke="#111" stroke-width="0.85" stroke-linecap="butt"/>
<text x="615.1" y="363.18" font-size="6.1" text-anchor="middle" font-weight="bold" stroke="#000" stroke-width="0.3" fill="#000">120</text>
<rect x="503.1" y="343.66" width="3.5" height="3.5" fill="#000" stroke="#222" stroke-width="0.6"/>
<rect x="515.35" y="331.26" width="3.5" height="3.5" fill="#000" stroke="#222" stroke-width="0.6"/>
<rect x="539.85" y="306.61" width="3.5" height="3.5" fill="#000" stroke="#222" stroke-width="0.6"/>
<rect x="588.85" y="288.25" width="3.5" height="3.5" fill="#000" stroke="#222" stroke-width="0.6"/>
<rect x="613.35" y="277.81" width="3.5" height="3.5" fill="#000" stroke="#222" stroke-width="0.6"/>
<rect x="490.85" y="351.25" width="3.5" height="3.5" fill="#fff" stroke="#222" stroke-width="0.6"/>
<rect x="503.1" y="328.81" width="3.5" height="3.5" fill="#fff" stroke="#222" stroke-width="0.6"/>
<rect x="515.35" y="314.29" width="3.5" height="3.5" fill="#fff" stroke="#222" stroke-width="0.6"/>
<rect x="539.85" y="285.97" width="3.5" height="3.5" fill="#fff" stroke="#222" stroke-width="0.6"/>
<rect x="588.85" y="277.81" width="3.5" height="3.5" fill="#fff" stroke="#222" stroke-width="0.6"/>
<rect x="613.35" y="277.81" width="3.5" height="3.5" fill="#fff" stroke="#222" stroke-width="0.6"/>
<text x="503.62" y="328.49" font-size="6.9" text-anchor="middle" font-weight="bold" stroke="#111" stroke-width="0.2" fill="#111">****</text>
<text x="516.08" y="311.84" font-size="6.9" text-anchor="middle" font-weight="bold" stroke="#111" stroke-width="0.2" fill="#111">****</text>
<text x="541.09" y="285.89" font-size="6.9" text-anchor="middle" font-weight="bold" stroke="#111" stroke-width="0.2" fill="#111">****</text>
<text x="590.19" y="277.49" font-size="6.9" text-anchor="middle" font-weight="bold" stroke="#111" stroke-width="0.2" fill="#111">***</text>
<line x1="633.8" y1="277" x2="642.2" y2="277" stroke="#444" stroke-width="0.7" stroke-linecap="butt"/>
<rect x="636.25" y="275.25" width="3.5" height="3.5" fill="#fff" stroke="#222" stroke-width="0.6"/>
<line x1="633.8" y1="291.6" x2="642.2" y2="291.6" stroke="#444" stroke-width="0.7" stroke-linecap="butt"/>
<rect x="636.25" y="289.85" width="3.5" height="3.5" fill="#000" stroke="#222" stroke-width="0.6"/>
<text x="647.4" y="279.47" font-size="6.9" text-anchor="start" fill="#111">Gel + VEGF</text>
<text x="647.4" y="290.17" font-size="6.9" text-anchor="start" fill="#111">Gel + HβCD</text>
<text x="647.4" y="297.17" font-size="6.9" text-anchor="start" fill="#111">+ VEGF</text>
</g>
<g id="panelD">
<rect x="66.9" y="712.94" width="9.8" height="128.06" fill="#ffffff" stroke="#0a0a0a" stroke-width="1.35"/>
<line x1="71.8" y1="697.38" x2="71.8" y2="712.94" stroke="#222" stroke-width="0.8" stroke-linecap="butt"/>
<line x1="69.1" y1="697.38" x2="74.5" y2="697.38" stroke="#222" stroke-width="0.8" stroke-linecap="butt"/>
<rect x="79.95" y="838.93" width="8.4" height="2.07" fill="#a6a6a6" stroke="#222" stroke-width="0.8"/>
<line x1="84.15" y1="838.11" x2="84.15" y2="838.93" stroke="#222" stroke-width="0.8" stroke-linecap="butt"/>
<line x1="81.45" y1="838.11" x2="86.85" y2="838.11" stroke="#222" stroke-width="0.8" stroke-linecap="butt"/>
<rect x="91.6" y="773.53" width="9.8" height="67.47" fill="#f5dfbf" stroke="#0a0a0a" stroke-width="1.35"/>
<line x1="96.5" y1="766.37" x2="96.5" y2="773.53" stroke="#222" stroke-width="0.8" stroke-linecap="butt"/>
<line x1="93.8" y1="766.37" x2="99.2" y2="766.37" stroke="#222" stroke-width="0.8" stroke-linecap="butt"/>
<rect x="104.65" y="840.31" width="5" height="0.69" fill="#ff6a1a" stroke="#222" stroke-width="0.8"/>
<rect x="116.3" y="834.67" width="9.8" height="6.33" fill="#c1c1fb" stroke="#0a0a0a" stroke-width="1.35"/>
<line x1="121.2" y1="832.46" x2="121.2" y2="834.67" stroke="#222" stroke-width="0.8" stroke-linecap="butt"/>
<line x1="118.5" y1="832.46" x2="123.9" y2="832.46" stroke="#222" stroke-width="0.8" stroke-linecap="butt"/>
<rect x="128.65" y="816.63" width="9.8" height="24.37" fill="#0505f5" stroke="#0a0a0a" stroke-width="1.35"/>
<line x1="133.55" y1="813.46" x2="133.55" y2="816.63" stroke="#222" stroke-width="0.8" stroke-linecap="butt"/>
<line x1="130.85" y1="813.46" x2="136.25" y2="813.46" stroke="#222" stroke-width="0.8" stroke-linecap="butt"/>
<rect x="151.83" y="714.45" width="9.8" height="126.55" fill="#ffffff" stroke="#0a0a0a" stroke-width="1.35"/>
<line x1="156.73" y1="702.47" x2="156.73" y2="714.45" stroke="#222" stroke-width="0.8" stroke-linecap="butt"/>
<line x1="154.03" y1="702.47" x2="159.43" y2="702.47" stroke="#222" stroke-width="0.8" stroke-linecap="butt"/>
<rect x="164.88" y="839.9" width="5" height="1.1" fill="#a6a6a6" stroke="#222" stroke-width="0.8"/>
<rect x="176.53" y="742.54" width="9.8" height="98.46" fill="#f5dfbf" stroke="#0a0a0a" stroke-width="1.35"/>
<line x1="181.43" y1="732.49" x2="181.43" y2="742.54" stroke="#222" stroke-width="0.8" stroke-linecap="butt"/>
<line x1="178.73" y1="732.49" x2="184.13" y2="732.49" stroke="#222" stroke-width="0.8" stroke-linecap="butt"/>
<rect x="201.23" y="809.33" width="9.8" height="31.67" fill="#c1c1fb" stroke="#0a0a0a" stroke-width="1.35"/>
<line x1="206.13" y1="803.27" x2="206.13" y2="809.33" stroke="#222" stroke-width="0.8" stroke-linecap="butt"/>
<line x1="203.43" y1="803.27" x2="208.83" y2="803.27" stroke="#222" stroke-width="0.8" stroke-linecap="butt"/>
<rect x="213.58" y="786.33" width="9.8" height="54.67" fill="#0505f5" stroke="#0a0a0a" stroke-width="1.35"/>
<line x1="218.48" y1="780.27" x2="218.48" y2="786.33" stroke="#222" stroke-width="0.8" stroke-linecap="butt"/>
<line x1="215.78" y1="780.27" x2="221.18" y2="780.27" stroke="#222" stroke-width="0.8" stroke-linecap="butt"/>
<rect x="236.76" y="712.94" width="9.8" height="128.06" fill="#ffffff" stroke="#0a0a0a" stroke-width="1.35"/>
<line x1="241.66" y1="702.34" x2="241.66" y2="712.94" stroke="#222" stroke-width="0.8" stroke-linecap="butt"/>
<line x1="238.96" y1="702.34" x2="244.36" y2="702.34" stroke="#222" stroke-width="0.8" stroke-linecap="butt"/>
<rect x="249.81" y="840.45" width="5" height="0.55" fill="#a6a6a6" stroke="#222" stroke-width="0.8"/>
<rect x="261.46" y="758.38" width="9.8" height="82.62" fill="#f5dfbf" stroke="#0a0a0a" stroke-width="1.35"/>
<line x1="266.36" y1="747.5" x2="266.36" y2="758.38" stroke="#222" stroke-width="0.8" stroke-linecap="butt"/>
<line x1="263.66" y1="747.5" x2="269.06" y2="747.5" stroke="#222" stroke-width="0.8" stroke-linecap="butt"/>
<rect x="286.16" y="797.35" width="9.8" height="43.65" fill="#c1c1fb" stroke="#0a0a0a" stroke-width="1.35"/>
<line x1="291.06" y1="787.3" x2="291.06" y2="797.35" stroke="#222" stroke-width="0.8" stroke-linecap="butt"/>
<line x1="288.36" y1="787.3" x2="293.76" y2="787.3" stroke="#222" stroke-width="0.8" stroke-linecap="butt"/>
<rect x="298.51" y="775.59" width="9.8" height="65.41" fill="#0505f5" stroke="#0a0a0a" stroke-width="1.35"/>
<line x1="303.41" y1="771.05" x2="303.41" y2="775.59" stroke="#222" stroke-width="0.8" stroke-linecap="butt"/>
<line x1="300.71" y1="771.05" x2="306.11" y2="771.05" stroke="#222" stroke-width="0.8" stroke-linecap="butt"/>
<rect x="321.69" y="720.65" width="9.8" height="120.35" fill="#ffffff" stroke="#0a0a0a" stroke-width="1.35"/>
<line x1="326.59" y1="710.6" x2="326.59" y2="720.65" stroke="#222" stroke-width="0.8" stroke-linecap="butt"/>
<line x1="323.89" y1="710.6" x2="329.29" y2="710.6" stroke="#222" stroke-width="0.8" stroke-linecap="butt"/>
<rect x="334.74" y="840.45" width="5" height="0.55" fill="#a6a6a6" stroke="#222" stroke-width="0.8"/>
<rect x="346.39" y="744.61" width="9.8" height="96.39" fill="#f5dfbf" stroke="#0a0a0a" stroke-width="1.35"/>
<line x1="351.29" y1="733.04" x2="351.29" y2="744.61" stroke="#222" stroke-width="0.8" stroke-linecap="butt"/>
<line x1="348.59" y1="733.04" x2="353.99" y2="733.04" stroke="#222" stroke-width="0.8" stroke-linecap="butt"/>
<rect x="371.09" y="776.97" width="9.8" height="64.03" fill="#c1c1fb" stroke="#0a0a0a" stroke-width="1.35"/>
<line x1="375.99" y1="767.33" x2="375.99" y2="776.97" stroke="#222" stroke-width="0.8" stroke-linecap="butt"/>
<line x1="373.29" y1="767.33" x2="378.69" y2="767.33" stroke="#222" stroke-width="0.8" stroke-linecap="butt"/>
<rect x="383.44" y="746.95" width="9.8" height="94.05" fill="#0505f5" stroke="#0a0a0a" stroke-width="1.35"/>
<line x1="388.34" y1="736.35" x2="388.34" y2="746.95" stroke="#222" stroke-width="0.8" stroke-linecap="butt"/>
<line x1="385.64" y1="736.35" x2="391.04" y2="736.35" stroke="#222" stroke-width="0.8" stroke-linecap="butt"/>
<line x1="61" y1="675" x2="61" y2="841.8" stroke="#000" stroke-width="1.65" stroke-linecap="butt"/>
<line x1="55" y1="841" x2="401.2" y2="841" stroke="#000" stroke-width="1.65" stroke-linecap="butt"/>
<line x1="55" y1="813.46" x2="61" y2="813.46" stroke="#000" stroke-width="1.65" stroke-linecap="butt"/>
<line x1="55" y1="785.92" x2="61" y2="785.92" stroke="#000" stroke-width="1.65" stroke-linecap="butt"/>
<line x1="55" y1="758.38" x2="61" y2="758.38" stroke="#000" stroke-width="1.65" stroke-linecap="butt"/>
<line x1="55" y1="730.84" x2="61" y2="730.84" stroke="#000" stroke-width="1.65" stroke-linecap="butt"/>
<line x1="55" y1="703.3" x2="61" y2="703.3" stroke="#000" stroke-width="1.65" stroke-linecap="butt"/>
<line x1="55" y1="675.76" x2="61" y2="675.76" stroke="#000" stroke-width="1.65" stroke-linecap="butt"/>
<text x="52.9" y="844.02" font-size="9" text-anchor="end" fill="#000">0</text>
<text x="52.9" y="816.48" font-size="9" text-anchor="end" fill="#000">20</text>
<text x="52.9" y="788.94" font-size="9" text-anchor="end" fill="#000">40</text>
<text x="52.9" y="761.4" font-size="9" text-anchor="end" fill="#000">60</text>
<text x="52.9" y="733.86" font-size="9" text-anchor="end" fill="#000">80</text>
<text x="52.9" y="706.32" font-size="9" text-anchor="end" fill="#000">100</text>
<text x="52.9" y="678.78" font-size="9" text-anchor="end" fill="#000">120</text>
<line x1="102.65" y1="841" x2="102.65" y2="847" stroke="#000" stroke-width="1.65" stroke-linecap="butt"/>
<text x="102.65" y="856.22" font-size="9" text-anchor="middle" fill="#000">24hr</text>
<line x1="187.58" y1="841" x2="187.58" y2="847" stroke="#000" stroke-width="1.65" stroke-linecap="butt"/>
<text x="187.58" y="856.22" font-size="9" text-anchor="middle" fill="#000">48hr</text>
<line x1="272.51" y1="841" x2="272.51" y2="847" stroke="#000" stroke-width="1.65" stroke-linecap="butt"/>
<text x="272.51" y="856.22" font-size="9" text-anchor="middle" fill="#000">96hr</text>
<line x1="357.44" y1="841" x2="357.44" y2="847" stroke="#000" stroke-width="1.65" stroke-linecap="butt"/>
<text x="357.44" y="856.22" font-size="9" text-anchor="middle" fill="#000">120hr</text>
<text transform="translate(27.8 758.7) rotate(-90)" x="0" y="3.92" font-size="10.95" text-anchor="middle" font-weight="bold" fill="#000">EGF Bioavailability (%)</text>
<path d="M71.8 492.6V449.36H133.55V467.4" stroke="#0a0a0a" stroke-width="1.25" fill="none" stroke-linejoin="miter"/>
<path d="M92.78 438.36V443.76M90.44 439.71L95.11 442.41M90.44 442.41L95.11 439.71M99.38 438.36V443.76M97.04 439.71L101.71 442.41M97.04 442.41L101.71 439.71M105.98 438.36V443.76M103.64 439.71L108.31 442.41M103.64 442.41L108.31 439.71M112.58 438.36V443.76M110.24 439.71L114.91 442.41M110.24 442.41L114.91 439.71" stroke="#000" stroke-width="0.95" fill="none"/>
<path d="M84.15 482.6V475.12H133.55V508.6" stroke="#0a0a0a" stroke-width="1.25" fill="none" stroke-linejoin="miter"/>
<path d="M108.85 464.12V469.52M106.51 465.47L111.19 468.17M106.51 468.17L111.19 465.47" stroke="#000" stroke-width="0.95" fill="none"/>
<path d="M71.8 534V500.88H121.2V508.6" stroke="#0a0a0a" stroke-width="1.25" fill="none" stroke-linejoin="miter"/>
<path d="M86.6 489.88V495.28M84.26 491.23L88.94 493.93M84.26 493.93L88.94 491.23M93.2 489.88V495.28M90.86 491.23L95.54 493.93M90.86 493.93L95.54 491.23M99.8 489.88V495.28M97.46 491.23L102.14 493.93M97.46 493.93L102.14 491.23M106.4 489.88V495.28M104.06 491.23L108.74 493.93M104.06 493.93L108.74 491.23" stroke="#000" stroke-width="0.95" fill="none"/>
<path d="M96.5 534V526.64H133.55V674" stroke="#0a0a0a" stroke-width="1.25" fill="none" stroke-linejoin="miter"/>
<path d="M105.12 515.64V521.04M102.79 516.99L107.46 519.69M102.79 519.69L107.46 516.99M111.73 515.64V521.04M109.39 516.99L114.06 519.69M109.39 519.69L114.06 516.99M118.33 515.64V521.04M115.99 516.99L120.66 519.69M115.99 519.69L120.66 516.99M124.93 515.64V521.04M122.59 516.99L127.26 519.69M122.59 519.69L127.26 516.99" stroke="#000" stroke-width="0.95" fill="none"/>
<path d="M71.8 586V552.4H108.85V560.2" stroke="#0a0a0a" stroke-width="1.25" fill="none" stroke-linejoin="miter"/>
<path d="M80.43 541.4V546.8M78.09 542.75L82.76 545.45M78.09 545.45L82.76 542.75M87.03 541.4V546.8M84.69 542.75L89.36 545.45M84.69 545.45L89.36 542.75M93.62 541.4V546.8M91.29 542.75L95.96 545.45M91.29 545.45L95.96 542.75M100.22 541.4V546.8M97.89 542.75L102.56 545.45M97.89 545.45L102.56 542.75" stroke="#000" stroke-width="0.95" fill="none"/>
<path d="M96.5 586V578.16H121.2V612" stroke="#0a0a0a" stroke-width="1.25" fill="none" stroke-linejoin="miter"/>
<path d="M98.95 567.16V572.56M96.61 568.51L101.29 571.21M96.61 571.21L101.29 568.51M105.55 567.16V572.56M103.21 568.51L107.89 571.21M103.21 571.21L107.89 568.51M112.15 567.16V572.56M109.81 568.51L114.49 571.21M109.81 571.21L114.49 568.51M118.75 567.16V572.56M116.41 568.51L121.09 571.21M116.41 571.21L121.09 568.51" stroke="#000" stroke-width="0.95" fill="none"/>
<path d="M71.8 637.6V603.92H96.5V612" stroke="#0a0a0a" stroke-width="1.25" fill="none" stroke-linejoin="miter"/>
<path d="M74.25 592.92V598.32M71.91 594.27L76.59 596.97M71.91 596.97L76.59 594.27M80.85 592.92V598.32M78.51 594.27L83.19 596.97M78.51 596.97L83.19 594.27M87.45 592.92V598.32M85.11 594.27L89.79 596.97M85.11 596.97L89.79 594.27M94.05 592.92V598.32M91.71 594.27L96.39 596.97M91.71 596.97L96.39 594.27" stroke="#000" stroke-width="0.95" fill="none"/>
<path d="M96.5 637.6V629.68H108.85V637.6" stroke="#0a0a0a" stroke-width="1.25" fill="none" stroke-linejoin="miter"/>
<path d="M92.78 618.68V624.08M90.44 620.03L95.11 622.73M90.44 622.73L95.11 620.03M99.38 618.68V624.08M97.04 620.03L101.71 622.73M97.04 622.73L101.71 620.03M105.97 618.68V624.08M103.64 620.03L108.31 622.73M103.64 622.73L108.31 620.03M112.57 618.68V624.08M110.24 620.03L114.91 622.73M110.24 622.73L114.91 620.03" stroke="#000" stroke-width="0.95" fill="none"/>
<path d="M84.15 663.6V655.44H96.5V663.6" stroke="#0a0a0a" stroke-width="1.25" fill="none" stroke-linejoin="miter"/>
<path d="M80.43 644.44V649.84M78.09 645.79L82.76 648.49M78.09 648.49L82.76 645.79M87.03 644.44V649.84M84.69 645.79L89.36 648.49M84.69 648.49L89.36 645.79M93.62 644.44V649.84M91.29 645.79L95.96 648.49M91.29 648.49L95.96 645.79M100.22 644.44V649.84M97.89 645.79L102.56 648.49M97.89 648.49L102.56 645.79" stroke="#000" stroke-width="0.95" fill="none"/>
<path d="M71.8 689.6V681.2H84.15V829.6" stroke="#0a0a0a" stroke-width="1.25" fill="none" stroke-linejoin="miter"/>
<path d="M68.08 670.2V675.6M65.74 671.55L70.41 674.25M65.74 674.25L70.41 671.55M74.68 670.2V675.6M72.34 671.55L77.01 674.25M72.34 674.25L77.01 671.55M81.28 670.2V675.6M78.94 671.55L83.61 674.25M78.94 674.25L83.61 671.55M87.88 670.2V675.6M85.54 671.55L90.21 674.25M85.54 674.25L90.21 671.55" stroke="#000" stroke-width="0.95" fill="none"/>
<path d="M108.85 832V681.2H133.55V805" stroke="#0a0a0a" stroke-width="1.25" fill="none" stroke-linejoin="miter"/>
<path d="M121.2 670.2V675.6M118.86 671.55L123.54 674.25M118.86 674.25L123.54 671.55" stroke="#000" stroke-width="0.95" fill="none"/>
<path d="M156.73 467V423.6H218.48V441.4" stroke="#0a0a0a" stroke-width="1.25" fill="none" stroke-linejoin="miter"/>
<path d="M177.71 412.6V418M175.37 413.95L180.04 416.65M175.37 416.65L180.04 413.95M184.31 412.6V418M181.97 413.95L186.64 416.65M181.97 416.65L186.64 413.95M190.91 412.6V418M188.57 413.95L193.24 416.65M188.57 416.65L193.24 413.95M197.51 412.6V418M195.17 413.95L199.84 416.65M195.17 416.65L199.84 413.95" stroke="#000" stroke-width="0.95" fill="none"/>
<path d="M169.08 457V449.36H218.48V482.6" stroke="#0a0a0a" stroke-width="1.25" fill="none" stroke-linejoin="miter"/>
<path d="M183.88 438.36V443.76M181.54 439.71L186.22 442.41M181.54 442.41L186.22 439.71M190.48 438.36V443.76M188.14 439.71L192.82 442.41M188.14 442.41L192.82 439.71M197.08 438.36V443.76M194.74 439.71L199.42 442.41M194.74 442.41L199.42 439.71M203.68 438.36V443.76M201.34 439.71L206.02 442.41M201.34 442.41L206.02 439.71" stroke="#000" stroke-width="0.95" fill="none"/>
<path d="M156.73 534V475.12H206.13V482.6" stroke="#0a0a0a" stroke-width="1.25" fill="none" stroke-linejoin="miter"/>
<path d="M171.53 464.12V469.52M169.19 465.47L173.87 468.17M169.19 468.17L173.87 465.47M178.13 464.12V469.52M175.79 465.47L180.47 468.17M175.79 468.17L180.47 465.47M184.73 464.12V469.52M182.39 465.47L187.07 468.17M182.39 468.17L187.07 465.47M191.33 464.12V469.52M188.99 465.47L193.67 468.17M188.99 468.17L193.67 465.47" stroke="#000" stroke-width="0.95" fill="none"/>
<path d="M181.43 508.6V500.88H218.48V586" stroke="#0a0a0a" stroke-width="1.25" fill="none" stroke-linejoin="miter"/>
<path d="M190.06 489.88V495.28M187.72 491.23L192.39 493.93M187.72 493.93L192.39 491.23M196.66 489.88V495.28M194.32 491.23L198.99 493.93M194.32 493.93L198.99 491.23M203.26 489.88V495.28M200.92 491.23L205.59 493.93M200.92 493.93L205.59 491.23M209.86 489.88V495.28M207.52 491.23L212.19 493.93M207.52 493.93L212.19 491.23" stroke="#000" stroke-width="0.95" fill="none"/>
<path d="M169.08 534V526.64H206.13V560.2" stroke="#0a0a0a" stroke-width="1.25" fill="none" stroke-linejoin="miter"/>
<path d="M181.01 515.64V521.04M178.67 516.99L183.34 519.69M178.67 519.69L183.34 516.99M187.61 515.64V521.04M185.27 516.99L189.94 519.69M185.27 519.69L189.94 516.99M194.21 515.64V521.04M191.87 516.99L196.54 519.69M191.87 519.69L196.54 516.99" stroke="#000" stroke-width="0.95" fill="none"/>
<path d="M156.73 586V552.4H193.78V560.2" stroke="#0a0a0a" stroke-width="1.25" fill="none" stroke-linejoin="miter"/>
<path d="M165.35 541.4V546.8M163.02 542.75L167.69 545.45M163.02 545.45L167.69 542.75M171.95 541.4V546.8M169.62 542.75L174.29 545.45M169.62 545.45L174.29 542.75M178.56 541.4V546.8M176.22 542.75L180.89 545.45M176.22 545.45L180.89 542.75M185.16 541.4V546.8M182.82 542.75L187.49 545.45M182.82 545.45L187.49 542.75" stroke="#000" stroke-width="0.95" fill="none"/>
<path d="M181.43 586V578.16H206.13V586" stroke="#0a0a0a" stroke-width="1.25" fill="none" stroke-linejoin="miter"/>
<path d="M183.88 567.16V572.56M181.54 568.51L186.22 571.21M181.54 571.21L186.22 568.51M190.48 567.16V572.56M188.14 568.51L192.82 571.21M188.14 571.21L192.82 568.51M197.08 567.16V572.56M194.74 568.51L199.42 571.21M194.74 571.21L199.42 568.51M203.68 567.16V572.56M201.34 568.51L206.02 571.21M201.34 571.21L206.02 568.51" stroke="#000" stroke-width="0.95" fill="none"/>
<path d="M156.73 637.6V603.92H181.43V612" stroke="#0a0a0a" stroke-width="1.25" fill="none" stroke-linejoin="miter"/>
<path d="M165.78 592.92V598.32M163.44 594.27L168.12 596.97M163.44 596.97L168.12 594.27M172.38 592.92V598.32M170.04 594.27L174.72 596.97M170.04 596.97L174.72 594.27" stroke="#000" stroke-width="0.95" fill="none"/>
<path d="M193.78 612V603.92H218.48V637.6" stroke="#0a0a0a" stroke-width="1.25" fill="none" stroke-linejoin="miter"/>
<path d="M196.23 592.92V598.32M193.89 594.27L198.57 596.97M193.89 596.97L198.57 594.27M202.83 592.92V598.32M200.49 594.27L205.17 596.97M200.49 596.97L205.17 594.27M209.43 592.92V598.32M207.09 594.27L211.77 596.97M207.09 596.97L211.77 594.27M216.03 592.92V598.32M213.69 594.27L218.37 596.97M213.69 596.97L218.37 594.27" stroke="#000" stroke-width="0.95" fill="none"/>
<path d="M181.43 637.6V629.68H193.78V637.6" stroke="#0a0a0a" stroke-width="1.25" fill="none" stroke-linejoin="miter"/>
<path d="M177.71 618.68V624.08M175.37 620.03L180.04 622.73M175.37 622.73L180.04 620.03M184.31 618.68V624.08M181.97 620.03L186.64 622.73M181.97 622.73L186.64 620.03M190.91 618.68V624.08M188.57 620.03L193.24 622.73M188.57 622.73L193.24 620.03M197.51 618.68V624.08M195.17 620.03L199.84 622.73M195.17 622.73L199.84 620.03" stroke="#000" stroke-width="0.95" fill="none"/>
<path d="M169.08 663.6V655.44H181.43V663.6" stroke="#0a0a0a" stroke-width="1.25" fill="none" stroke-linejoin="miter"/>
<path d="M165.35 644.44V649.84M163.02 645.79L167.69 648.49M163.02 648.49L167.69 645.79M171.95 644.44V649.84M169.62 645.79L174.29 648.49M169.62 648.49L174.29 645.79M178.56 644.44V649.84M176.22 645.79L180.89 648.49M176.22 648.49L180.89 645.79M185.16 644.44V649.84M182.82 645.79L187.49 648.49M182.82 648.49L187.49 645.79" stroke="#000" stroke-width="0.95" fill="none"/>
<path d="M206.13 663.6V655.44H218.48V773" stroke="#0a0a0a" stroke-width="1.25" fill="none" stroke-linejoin="miter"/>
<path d="M212.31 644.44V649.84M209.97 645.79L214.64 648.49M209.97 648.49L214.64 645.79" stroke="#000" stroke-width="0.95" fill="none"/>
<path d="M156.73 694.4V681.2H169.08V830.4" stroke="#0a0a0a" stroke-width="1.25" fill="none" stroke-linejoin="miter"/>
<path d="M153.01 670.2V675.6M150.67 671.55L155.34 674.25M150.67 674.25L155.34 671.55M159.61 670.2V675.6M157.27 671.55L161.94 674.25M157.27 674.25L161.94 671.55M166.21 670.2V675.6M163.87 671.55L168.54 674.25M163.87 674.25L168.54 671.55M172.81 670.2V675.6M170.47 671.55L175.14 674.25M170.47 674.25L175.14 671.55" stroke="#000" stroke-width="0.95" fill="none"/>
<path d="M193.78 832.4V681.2H206.13V795.6" stroke="#0a0a0a" stroke-width="1.25" fill="none" stroke-linejoin="miter"/>
<path d="M193.35 670.2V675.6M191.02 671.55L195.69 674.25M191.02 674.25L195.69 671.55M199.95 670.2V675.6M197.62 671.55L202.29 674.25M197.62 674.25L202.29 671.55M206.55 670.2V675.6M204.22 671.55L208.89 674.25M204.22 674.25L208.89 671.55" stroke="#000" stroke-width="0.95" fill="none"/>
<path d="M241.66 492.6V449.36H303.41V467" stroke="#0a0a0a" stroke-width="1.25" fill="none" stroke-linejoin="miter"/>
<path d="M262.63 438.36V443.76M260.3 439.71L264.97 442.41M260.3 442.41L264.97 439.71M269.23 438.36V443.76M266.9 439.71L271.57 442.41M266.9 442.41L271.57 439.71M275.83 438.36V443.76M273.5 439.71L278.17 442.41M273.5 442.41L278.17 439.71M282.43 438.36V443.76M280.1 439.71L284.77 442.41M280.1 442.41L284.77 439.71" stroke="#000" stroke-width="0.95" fill="none"/>
<path d="M254.01 482.6V475.12H303.41V586" stroke="#0a0a0a" stroke-width="1.25" fill="none" stroke-linejoin="miter"/>
<path d="M268.81 464.12V469.52M266.47 465.47L271.15 468.17M266.47 468.17L271.15 465.47M275.41 464.12V469.52M273.07 465.47L277.75 468.17M273.07 468.17L277.75 465.47M282.01 464.12V469.52M279.67 465.47L284.35 468.17M279.67 468.17L284.35 465.47M288.61 464.12V469.52M286.27 465.47L290.95 468.17M286.27 468.17L290.95 465.47" stroke="#000" stroke-width="0.95" fill="none"/>
<path d="M241.66 534V500.88H291.06V508.6" stroke="#0a0a0a" stroke-width="1.25" fill="none" stroke-linejoin="miter"/>
<path d="M256.46 489.88V495.28M254.12 491.23L258.8 493.93M254.12 493.93L258.8 491.23M263.06 489.88V495.28M260.72 491.23L265.4 493.93M260.72 493.93L265.4 491.23M269.66 489.88V495.28M267.32 491.23L272 493.93M267.32 493.93L272 491.23M276.26 489.88V495.28M273.92 491.23L278.6 493.93M273.92 493.93L278.6 491.23" stroke="#000" stroke-width="0.95" fill="none"/>
<path d="M254.01 534V526.64H291.06V560.2" stroke="#0a0a0a" stroke-width="1.25" fill="none" stroke-linejoin="miter"/>
<path d="M262.63 515.64V521.04M260.3 516.99L264.97 519.69M260.3 519.69L264.97 516.99M269.23 515.64V521.04M266.9 516.99L271.57 519.69M266.9 519.69L271.57 516.99M275.83 515.64V521.04M273.5 516.99L278.17 519.69M273.5 519.69L278.17 516.99M282.43 515.64V521.04M280.1 516.99L284.77 519.69M280.1 519.69L284.77 516.99" stroke="#000" stroke-width="0.95" fill="none"/>
<path d="M241.66 586V552.4H278.71V560.2" stroke="#0a0a0a" stroke-width="1.25" fill="none" stroke-linejoin="miter"/>
<path d="M250.28 541.4V546.8M247.95 542.75L252.62 545.45M247.95 545.45L252.62 542.75M256.88 541.4V546.8M254.55 542.75L259.22 545.45M254.55 545.45L259.22 542.75M263.49 541.4V546.8M261.15 542.75L265.82 545.45M261.15 545.45L265.82 542.75M270.08 541.4V546.8M267.75 542.75L272.42 545.45M267.75 545.45L272.42 542.75" stroke="#000" stroke-width="0.95" fill="none"/>
<path d="M266.36 586V578.16H291.06V586" stroke="#0a0a0a" stroke-width="1.25" fill="none" stroke-linejoin="miter"/>
<path d="M268.81 567.16V572.56M266.47 568.51L271.15 571.21M266.47 571.21L271.15 568.51M275.41 567.16V572.56M273.07 568.51L277.75 571.21M273.07 571.21L277.75 568.51M282.01 567.16V572.56M279.67 568.51L284.35 571.21M279.67 571.21L284.35 568.51M288.61 567.16V572.56M286.27 568.51L290.95 571.21M286.27 571.21L290.95 568.51" stroke="#000" stroke-width="0.95" fill="none"/>
<path d="M241.66 637.6V603.92H266.36V612" stroke="#0a0a0a" stroke-width="1.25" fill="none" stroke-linejoin="miter"/>
<path d="M244.11 592.92V598.32M241.77 594.27L246.45 596.97M241.77 596.97L246.45 594.27M250.71 592.92V598.32M248.37 594.27L253.05 596.97M248.37 596.97L253.05 594.27M257.31 592.92V598.32M254.97 594.27L259.65 596.97M254.97 596.97L259.65 594.27M263.91 592.92V598.32M261.57 594.27L266.25 596.97M261.57 596.97L266.25 594.27" stroke="#000" stroke-width="0.95" fill="none"/>
<path d="M278.71 612V603.92H303.41V637.6" stroke="#0a0a0a" stroke-width="1.25" fill="none" stroke-linejoin="miter"/>
<path d="M281.16 592.92V598.32M278.82 594.27L283.5 596.97M278.82 596.97L283.5 594.27M287.76 592.92V598.32M285.42 594.27L290.1 596.97M285.42 596.97L290.1 594.27M294.36 592.92V598.32M292.02 594.27L296.7 596.97M292.02 596.97L296.7 594.27M300.96 592.92V598.32M298.62 594.27L303.3 596.97M298.62 596.97L303.3 594.27" stroke="#000" stroke-width="0.95" fill="none"/>
<path d="M266.36 637.6V629.68H278.71V637.6" stroke="#0a0a0a" stroke-width="1.25" fill="none" stroke-linejoin="miter"/>
<path d="M262.63 618.68V624.08M260.3 620.03L264.97 622.73M260.3 622.73L264.97 620.03M269.23 618.68V624.08M266.9 620.03L271.57 622.73M266.9 622.73L271.57 620.03M275.83 618.68V624.08M273.5 620.03L278.17 622.73M273.5 622.73L278.17 620.03M282.43 618.68V624.08M280.1 620.03L284.77 622.73M280.1 622.73L284.77 620.03" stroke="#000" stroke-width="0.95" fill="none"/>
<path d="M254.01 663.6V655.44H266.36V663.6" stroke="#0a0a0a" stroke-width="1.25" fill="none" stroke-linejoin="miter"/>
<path d="M250.28 644.44V649.84M247.95 645.79L252.62 648.49M247.95 648.49L252.62 645.79M256.88 644.44V649.84M254.55 645.79L259.22 648.49M254.55 648.49L259.22 645.79M263.49 644.44V649.84M261.15 645.79L265.82 648.49M261.15 648.49L265.82 645.79M270.08 644.44V649.84M267.75 645.79L272.42 648.49M267.75 648.49L272.42 645.79" stroke="#000" stroke-width="0.95" fill="none"/>
<path d="M291.06 663.6V655.44H303.41V663.6" stroke="#0a0a0a" stroke-width="1.25" fill="none" stroke-linejoin="miter"/>
<path d="M297.24 644.44V649.84M294.9 645.79L299.57 648.49M294.9 648.49L299.57 645.79" stroke="#000" stroke-width="0.95" fill="none"/>
<path d="M241.66 694.4V681.2H254.01V831" stroke="#0a0a0a" stroke-width="1.25" fill="none" stroke-linejoin="miter"/>
<path d="M237.93 670.2V675.6M235.6 671.55L240.27 674.25M235.6 674.25L240.27 671.55M244.53 670.2V675.6M242.2 671.55L246.87 674.25M242.2 674.25L246.87 671.55M251.13 670.2V675.6M248.8 671.55L253.47 674.25M248.8 674.25L253.47 671.55M257.73 670.2V675.6M255.4 671.55L260.07 674.25M255.4 674.25L260.07 671.55" stroke="#000" stroke-width="0.95" fill="none"/>
<path d="M278.71 833V681.2H291.06V779" stroke="#0a0a0a" stroke-width="1.25" fill="none" stroke-linejoin="miter"/>
<path d="M274.99 670.2V675.6M272.65 671.55L277.32 674.25M272.65 674.25L277.32 671.55M281.58 670.2V675.6M279.25 671.55L283.92 674.25M279.25 674.25L283.92 671.55M288.19 670.2V675.6M285.85 671.55L290.52 674.25M285.85 674.25L290.52 671.55M294.78 670.2V675.6M292.45 671.55L297.12 674.25M292.45 674.25L297.12 671.55" stroke="#000" stroke-width="0.95" fill="none"/>
<path d="M326.59 492.6V449.36H388.34V467" stroke="#0a0a0a" stroke-width="1.25" fill="none" stroke-linejoin="miter"/>
<path d="M354.17 438.36V443.76M351.83 439.71L356.5 442.41M351.83 442.41L356.5 439.71M360.77 438.36V443.76M358.43 439.71L363.1 442.41M358.43 442.41L363.1 439.71" stroke="#000" stroke-width="0.95" fill="none"/>
<path d="M338.94 482.6V475.12H388.34V560.2" stroke="#0a0a0a" stroke-width="1.25" fill="none" stroke-linejoin="miter"/>
<path d="M353.74 464.12V469.52M351.4 465.47L356.08 468.17M351.4 468.17L356.08 465.47M360.34 464.12V469.52M358 465.47L362.68 468.17M358 468.17L362.68 465.47M366.94 464.12V469.52M364.6 465.47L369.28 468.17M364.6 468.17L369.28 465.47M373.54 464.12V469.52M371.2 465.47L375.88 468.17M371.2 468.17L375.88 465.47" stroke="#000" stroke-width="0.95" fill="none"/>
<path d="M326.59 534V500.88H375.99V508.6" stroke="#0a0a0a" stroke-width="1.25" fill="none" stroke-linejoin="miter"/>
<path d="M341.39 489.88V495.28M339.05 491.23L343.73 493.93M339.05 493.93L343.73 491.23M347.99 489.88V495.28M345.65 491.23L350.33 493.93M345.65 493.93L350.33 491.23M354.59 489.88V495.28M352.25 491.23L356.93 493.93M352.25 493.93L356.93 491.23M361.19 489.88V495.28M358.85 491.23L363.53 493.93M358.85 493.93L363.53 491.23" stroke="#000" stroke-width="0.95" fill="none"/>
<path d="M338.94 534V526.64H375.99V560.2" stroke="#0a0a0a" stroke-width="1.25" fill="none" stroke-linejoin="miter"/>
<path d="M347.57 515.64V521.04M345.23 516.99L349.9 519.69M345.23 519.69L349.9 516.99M354.17 515.64V521.04M351.83 516.99L356.5 519.69M351.83 519.69L356.5 516.99M360.77 515.64V521.04M358.43 516.99L363.1 519.69M358.43 519.69L363.1 516.99M367.37 515.64V521.04M365.03 516.99L369.7 519.69M365.03 519.69L369.7 516.99" stroke="#000" stroke-width="0.95" fill="none"/>
<path d="M326.59 595.6V552.4H363.64V560.2" stroke="#0a0a0a" stroke-width="1.25" fill="none" stroke-linejoin="miter"/>
<path d="M335.22 541.4V546.8M332.88 542.75L337.55 545.45M332.88 545.45L337.55 542.75M341.81 541.4V546.8M339.48 542.75L344.15 545.45M339.48 545.45L344.15 542.75M348.42 541.4V546.8M346.08 542.75L350.75 545.45M346.08 545.45L350.75 542.75M355.01 541.4V546.8M352.68 542.75L357.35 545.45M352.68 545.45L357.35 542.75" stroke="#000" stroke-width="0.95" fill="none"/>
<path d="M363.64 586V578.16H388.34V637.6" stroke="#0a0a0a" stroke-width="1.25" fill="none" stroke-linejoin="miter"/>
<path d="M366.09 567.16V572.56M363.75 568.51L368.43 571.21M363.75 571.21L368.43 568.51M372.69 567.16V572.56M370.35 568.51L375.03 571.21M370.35 571.21L375.03 568.51M379.29 567.16V572.56M376.95 568.51L381.63 571.21M376.95 571.21L381.63 568.51M385.89 567.16V572.56M383.55 568.51L388.23 571.21M383.55 571.21L388.23 568.51" stroke="#000" stroke-width="0.95" fill="none"/>
<path d="M326.59 637.6V603.92H348.99V612" stroke="#0a0a0a" stroke-width="1.25" fill="none" stroke-linejoin="miter"/>
<path d="M337.79 592.92V598.32M335.45 594.27L340.13 596.97M335.45 596.97L340.13 594.27" stroke="#000" stroke-width="0.95" fill="none"/>
<path d="M353.59 612V603.92H375.99V612" stroke="#0a0a0a" stroke-width="1.25" fill="none" stroke-linejoin="miter"/>
<path d="M358.19 592.92V598.32M355.85 594.27L360.53 596.97M355.85 596.97L360.53 594.27M364.79 592.92V598.32M362.45 594.27L367.13 596.97M362.45 596.97L367.13 594.27M371.39 592.92V598.32M369.05 594.27L373.73 596.97M369.05 596.97L373.73 594.27" stroke="#000" stroke-width="0.95" fill="none"/>
<path d="M351.29 637.6V629.68H363.64V637.6" stroke="#0a0a0a" stroke-width="1.25" fill="none" stroke-linejoin="miter"/>
<path d="M347.57 618.68V624.08M345.23 620.03L349.9 622.73M345.23 622.73L349.9 620.03M354.17 618.68V624.08M351.83 620.03L356.5 622.73M351.83 622.73L356.5 620.03M360.77 618.68V624.08M358.43 620.03L363.1 622.73M358.43 622.73L363.1 620.03M367.37 618.68V624.08M365.03 620.03L369.7 622.73M365.03 622.73L369.7 620.03" stroke="#000" stroke-width="0.95" fill="none"/>
<path d="M338.94 663.6V655.44H351.29V663.6" stroke="#0a0a0a" stroke-width="1.25" fill="none" stroke-linejoin="miter"/>
<path d="M335.22 644.44V649.84M332.88 645.79L337.55 648.49M332.88 648.49L337.55 645.79M341.82 644.44V649.84M339.48 645.79L344.15 648.49M339.48 648.49L344.15 645.79M348.42 644.44V649.84M346.08 645.79L350.75 648.49M346.08 648.49L350.75 645.79M355.02 644.44V649.84M352.68 645.79L357.35 648.49M352.68 648.49L357.35 645.79" stroke="#000" stroke-width="0.95" fill="none"/>
<path d="M375.99 663.6V655.44H388.34V663.6" stroke="#0a0a0a" stroke-width="1.25" fill="none" stroke-linejoin="miter"/>
<path d="M375.57 644.44V649.84M373.23 645.79L377.9 648.49M373.23 648.49L377.9 645.79M382.17 644.44V649.84M379.83 645.79L384.5 648.49M379.83 648.49L384.5 645.79M388.77 644.44V649.84M386.43 645.79L391.1 648.49M386.43 648.49L391.1 645.79" stroke="#000" stroke-width="0.95" fill="none"/>
<path d="M326.59 702.4V681.2H338.94V831.4" stroke="#0a0a0a" stroke-width="1.25" fill="none" stroke-linejoin="miter"/>
<path d="M322.87 670.2V675.6M320.53 671.55L325.2 674.25M320.53 674.25L325.2 671.55M329.47 670.2V675.6M327.13 671.55L331.8 674.25M327.13 674.25L331.8 671.55M336.07 670.2V675.6M333.73 671.55L338.4 674.25M333.73 674.25L338.4 671.55M342.67 670.2V675.6M340.33 671.55L345 674.25M340.33 674.25L345 671.55" stroke="#000" stroke-width="0.95" fill="none"/>
<path d="M363.64 832.6V681.2H375.99V759" stroke="#0a0a0a" stroke-width="1.25" fill="none" stroke-linejoin="miter"/>
<path d="M359.92 670.2V675.6M357.58 671.55L362.25 674.25M357.58 674.25L362.25 671.55M366.52 670.2V675.6M364.18 671.55L368.85 674.25M364.18 674.25L368.85 671.55M373.12 670.2V675.6M370.78 671.55L375.45 674.25M370.78 674.25L375.45 671.55M379.72 670.2V675.6M377.38 671.55L382.05 674.25M377.38 674.25L382.05 671.55" stroke="#000" stroke-width="0.95" fill="none"/>
<rect x="430.6" y="681.6" width="13.1" height="3.6" fill="#ffffff" stroke="#111" stroke-width="1.1"/>
<text x="452.3" y="686.81" font-size="9.25" text-anchor="start" fill="#111">EGF (no Gel)</text>
<rect x="430.6" y="697.1" width="13.1" height="3.6" fill="#a6a6a6" stroke="#111" stroke-width="1.1"/>
<text x="452.3" y="702.31" font-size="9.25" text-anchor="start" fill="#111">EGF (no Gel) + CWF</text>
<rect x="430.6" y="712.6" width="13.1" height="3.6" fill="#f5dfbf" stroke="#111" stroke-width="1.1"/>
<text x="452.3" y="717.81" font-size="9.25" text-anchor="start" fill="#111">GA + EGF</text>
<rect x="430.6" y="728.1" width="13.1" height="3.6" fill="#ff6a1a" stroke="#111" stroke-width="1.1"/>
<text x="452.3" y="733.31" font-size="9.25" text-anchor="start" fill="#111">GA + EGF + CWF</text>
<rect x="430.6" y="743.6" width="13.1" height="3.6" fill="#c1c1fb" stroke="#111" stroke-width="1.1"/>
<text x="452.3" y="748.81" font-size="9.25" text-anchor="start" fill="#111">GA + HβCD + EGF</text>
<rect x="430.6" y="759.1" width="13.1" height="3.6" fill="#0505f5" stroke="#111" stroke-width="1.1"/>
<text x="452.3" y="764.31" font-size="9.25" text-anchor="start" fill="#111">GA + HβCD + EGF + CWF</text>
</g>
</svg></body></html>
